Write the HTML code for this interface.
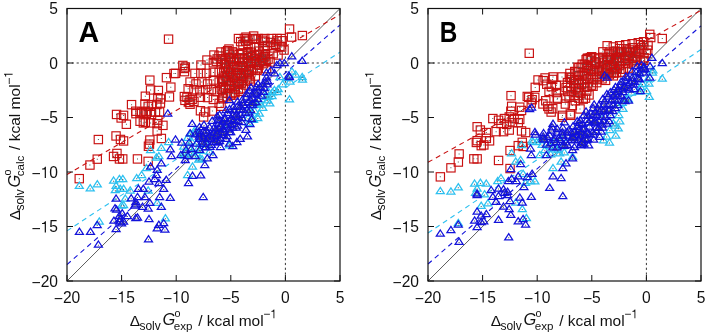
<!DOCTYPE html>
<html><head><meta charset="utf-8"><style>
html,body{margin:0;padding:0;background:#fff;}
svg{display:block;will-change:transform;font-family:"Liberation Sans",sans-serif;}
</style></head><body>
<svg width="708" height="336" viewBox="0 0 708 336" xmlns="http://www.w3.org/2000/svg">

<g stroke="#2a2a2a" stroke-width="0.95" stroke-dasharray="2.2 2.6" fill="none">
<line x1="67.0" y1="63.00" x2="340.0" y2="63.00"/>
<line x1="285.40" y1="8.5" x2="285.40" y2="281.0"/>
</g>
<line x1="67.0" y1="281.0" x2="340.0" y2="8.5" stroke="#333" stroke-width="0.8"/>
<line x1="67.00" y1="174.51" x2="340.00" y2="14.50" stroke="#c81010" stroke-width="1.1" stroke-dasharray="5 4"/>
<line x1="67.00" y1="264.54" x2="340.00" y2="24.96" stroke="#1212da" stroke-width="1.1" stroke-dasharray="5 4"/>
<line x1="67.00" y1="230.86" x2="340.00" y2="52.10" stroke="#2cc0f0" stroke-width="1.1" stroke-dasharray="5 4"/>
<g fill="none" stroke="#c81010" stroke-width="1.15"><rect x="112.4" y="110.3" width="8.3" height="8.3"/><rect x="117.0" y="113.8" width="8.3" height="8.3"/><rect x="94.2" y="135.4" width="8.3" height="8.3"/><rect x="93.1" y="155.0" width="8.3" height="8.3"/><rect x="85.8" y="160.9" width="8.3" height="8.3"/><rect x="111.9" y="131.8" width="8.3" height="8.3"/><rect x="116.3" y="135.3" width="8.3" height="8.3"/><rect x="109.4" y="152.3" width="8.3" height="8.3"/><rect x="112.8" y="149.3" width="8.3" height="8.3"/><rect x="115.3" y="154.8" width="8.3" height="8.3"/><rect x="75.1" y="174.5" width="8.3" height="8.3"/><rect x="127.4" y="100.5" width="8.3" height="8.3"/><rect x="131.6" y="107.1" width="8.3" height="8.3"/><rect x="122.2" y="120.1" width="8.3" height="8.3"/><rect x="164.4" y="35.0" width="8.3" height="8.3"/><rect x="145.7" y="76.0" width="8.3" height="8.3"/><rect x="146.4" y="85.8" width="8.3" height="8.3"/><rect x="154.2" y="86.3" width="8.3" height="8.3"/><rect x="162.3" y="73.5" width="8.3" height="8.3"/><rect x="169.8" y="69.4" width="8.3" height="8.3"/><rect x="166.7" y="83.0" width="8.3" height="8.3"/><rect x="165.3" y="92.8" width="8.3" height="8.3"/><rect x="156.3" y="94.8" width="8.3" height="8.3"/><rect x="156.3" y="98.9" width="8.3" height="8.3"/><rect x="131.8" y="109.5" width="8.3" height="8.3"/><rect x="140.8" y="99.8" width="8.3" height="8.3"/><rect x="144.0" y="102.2" width="8.3" height="8.3"/><rect x="147.3" y="100.5" width="8.3" height="8.3"/><rect x="141.5" y="107.1" width="8.3" height="8.3"/><rect x="146.4" y="107.9" width="8.3" height="8.3"/><rect x="151.3" y="107.9" width="8.3" height="8.3"/><rect x="155.4" y="107.9" width="8.3" height="8.3"/><rect x="137.4" y="107.9" width="8.3" height="8.3"/><rect x="119.4" y="111.2" width="8.3" height="8.3"/><rect x="139.2" y="118.8" width="8.3" height="8.3"/><rect x="146.4" y="118.8" width="8.3" height="8.3"/><rect x="153.0" y="119.5" width="8.3" height="8.3"/><rect x="158.8" y="121.2" width="8.3" height="8.3"/><rect x="153.0" y="126.9" width="8.3" height="8.3"/><rect x="157.2" y="134.3" width="8.3" height="8.3"/><rect x="145.7" y="135.9" width="8.3" height="8.3"/><rect x="145.3" y="140.0" width="8.3" height="8.3"/><rect x="119.4" y="136.8" width="8.3" height="8.3"/><rect x="133.3" y="154.8" width="8.3" height="8.3"/><rect x="144.0" y="157.2" width="8.3" height="8.3"/><rect x="118.6" y="154.8" width="8.3" height="8.3"/><rect x="178.7" y="61.3" width="8.3" height="8.3"/><rect x="181.2" y="62.9" width="8.3" height="8.3"/><rect x="180.3" y="67.5" width="8.3" height="8.3"/><rect x="153.7" y="93.5" width="8.3" height="8.3"/><rect x="141.2" y="92.1" width="8.3" height="8.3"/><rect x="152.7" y="100.4" width="8.3" height="8.3"/><rect x="135.9" y="108.8" width="8.3" height="8.3"/><rect x="142.2" y="109.1" width="8.3" height="8.3"/><rect x="147.4" y="110.4" width="8.3" height="8.3"/><rect x="135.9" y="117.1" width="8.3" height="8.3"/><rect x="141.2" y="118.1" width="8.3" height="8.3"/><rect x="153.7" y="116.0" width="8.3" height="8.3"/><rect x="144.3" y="142.1" width="8.3" height="8.3"/><rect x="182.8" y="93.1" width="8.3" height="8.3"/><rect x="188.0" y="95.2" width="8.3" height="8.3"/><rect x="180.8" y="96.2" width="8.3" height="8.3"/><rect x="184.9" y="98.3" width="8.3" height="8.3"/><rect x="196.3" y="93.1" width="8.3" height="8.3"/><rect x="196.3" y="106.6" width="8.3" height="8.3"/><rect x="199.5" y="112.8" width="8.3" height="8.3"/><rect x="285.4" y="24.9" width="8.3" height="8.3"/><rect x="287.4" y="32.9" width="8.3" height="8.3"/><rect x="298.2" y="31.4" width="8.3" height="8.3"/><rect x="223.5" y="46.5" width="8.3" height="8.3"/><rect x="217.0" y="54.6" width="8.3" height="8.3"/><rect x="212.2" y="57.1" width="8.3" height="8.3"/><rect x="234.3" y="34.4" width="8.3" height="8.3"/><rect x="240.2" y="34.4" width="8.3" height="8.3"/><rect x="248.3" y="34.4" width="8.3" height="8.3"/><rect x="254.0" y="34.4" width="8.3" height="8.3"/><rect x="260.6" y="34.4" width="8.3" height="8.3"/><rect x="267.2" y="34.4" width="8.3" height="8.3"/><rect x="272.9" y="34.4" width="8.3" height="8.3"/><rect x="277.0" y="34.4" width="8.3" height="8.3"/><rect x="180.2" y="64.3" width="8.3" height="8.3"/><rect x="171.4" y="69.2" width="8.3" height="8.3"/><rect x="190.8" y="69.2" width="8.3" height="8.3"/><rect x="196.7" y="69.2" width="8.3" height="8.3"/><rect x="202.4" y="69.2" width="8.3" height="8.3"/><rect x="185.9" y="77.9" width="8.3" height="8.3"/><rect x="191.8" y="79.8" width="8.3" height="8.3"/><rect x="197.7" y="77.9" width="8.3" height="8.3"/><rect x="203.4" y="79.8" width="8.3" height="8.3"/><rect x="209.2" y="58.6" width="8.3" height="8.3"/><rect x="213.0" y="54.8" width="8.3" height="8.3"/><rect x="216.9" y="58.6" width="8.3" height="8.3"/><rect x="218.8" y="54.8" width="8.3" height="8.3"/><rect x="209.2" y="68.2" width="8.3" height="8.3"/><rect x="215.0" y="68.2" width="8.3" height="8.3"/><rect x="209.2" y="75.9" width="8.3" height="8.3"/><rect x="215.0" y="77.9" width="8.3" height="8.3"/><rect x="218.8" y="74.0" width="8.3" height="8.3"/><rect x="184.0" y="84.6" width="8.3" height="8.3"/><rect x="189.8" y="85.6" width="8.3" height="8.3"/><rect x="195.7" y="86.6" width="8.3" height="8.3"/><rect x="201.4" y="85.6" width="8.3" height="8.3"/><rect x="207.2" y="85.6" width="8.3" height="8.3"/><rect x="213.0" y="87.6" width="8.3" height="8.3"/><rect x="180.2" y="92.4" width="8.3" height="8.3"/><rect x="185.9" y="95.3" width="8.3" height="8.3"/><rect x="189.8" y="97.2" width="8.3" height="8.3"/><rect x="203.4" y="93.4" width="8.3" height="8.3"/><rect x="209.2" y="95.3" width="8.3" height="8.3"/><rect x="185.9" y="100.1" width="8.3" height="8.3"/><rect x="215.0" y="99.2" width="8.3" height="8.3"/><rect x="201.4" y="107.9" width="8.3" height="8.3"/><rect x="208.2" y="106.9" width="8.3" height="8.3"/><rect x="216.9" y="102.1" width="8.3" height="8.3"/><rect x="224.8" y="44.9" width="8.3" height="8.3"/><rect x="216.8" y="47.9" width="8.3" height="8.3"/><rect x="209.8" y="50.9" width="8.3" height="8.3"/><rect x="202.8" y="55.9" width="8.3" height="8.3"/><rect x="196.8" y="60.9" width="8.3" height="8.3"/><rect x="221.8" y="47.9" width="8.3" height="8.3"/><rect x="214.8" y="51.9" width="8.3" height="8.3"/><rect x="241.8" y="33.0" width="8.3" height="8.3"/><rect x="249.5" y="31.9" width="8.3" height="8.3"/><rect x="236.5" y="37.5" width="8.3" height="8.3"/><rect x="241.5" y="37.1" width="8.3" height="8.3"/><rect x="243.8" y="36.0" width="8.3" height="8.3"/><rect x="251.1" y="35.1" width="8.3" height="8.3"/><rect x="258.3" y="36.1" width="8.3" height="8.3"/><rect x="260.8" y="37.8" width="8.3" height="8.3"/><rect x="266.2" y="38.3" width="8.3" height="8.3"/><rect x="272.9" y="36.8" width="8.3" height="8.3"/><rect x="278.0" y="36.6" width="8.3" height="8.3"/><rect x="238.8" y="40.4" width="8.3" height="8.3"/><rect x="243.9" y="40.3" width="8.3" height="8.3"/><rect x="250.2" y="42.9" width="8.3" height="8.3"/><rect x="254.8" y="42.4" width="8.3" height="8.3"/><rect x="259.7" y="42.3" width="8.3" height="8.3"/><rect x="263.4" y="41.3" width="8.3" height="8.3"/><rect x="271.6" y="40.2" width="8.3" height="8.3"/><rect x="277.5" y="42.9" width="8.3" height="8.3"/><rect x="275.8" y="42.2" width="8.3" height="8.3"/><rect x="269.8" y="43.8" width="8.3" height="8.3"/><rect x="260.9" y="46.6" width="8.3" height="8.3"/><rect x="269.1" y="49.6" width="8.3" height="8.3"/><rect x="260.9" y="52.6" width="8.3" height="8.3"/><rect x="262.4" y="64.5" width="8.3" height="8.3"/><rect x="265.9" y="57.9" width="8.3" height="8.3"/><rect x="273.9" y="50.9" width="8.3" height="8.3"/><rect x="279.9" y="45.9" width="8.3" height="8.3"/><rect x="255.8" y="57.9" width="8.3" height="8.3"/><rect x="228.3" y="47.7" width="8.3" height="8.3"/><rect x="243.7" y="47.5" width="8.3" height="8.3"/><rect x="247.1" y="48.1" width="8.3" height="8.3"/><rect x="254.5" y="47.0" width="8.3" height="8.3"/><rect x="225.1" y="50.2" width="8.3" height="8.3"/><rect x="229.3" y="49.0" width="8.3" height="8.3"/><rect x="234.8" y="50.5" width="8.3" height="8.3"/><rect x="238.2" y="49.4" width="8.3" height="8.3"/><rect x="243.2" y="51.3" width="8.3" height="8.3"/><rect x="244.8" y="49.8" width="8.3" height="8.3"/><rect x="250.5" y="50.9" width="8.3" height="8.3"/><rect x="255.1" y="50.1" width="8.3" height="8.3"/><rect x="258.8" y="50.8" width="8.3" height="8.3"/><rect x="261.3" y="50.6" width="8.3" height="8.3"/><rect x="224.7" y="53.5" width="8.3" height="8.3"/><rect x="226.9" y="53.9" width="8.3" height="8.3"/><rect x="232.4" y="54.3" width="8.3" height="8.3"/><rect x="235.5" y="53.6" width="8.3" height="8.3"/><rect x="239.9" y="54.6" width="8.3" height="8.3"/><rect x="243.9" y="53.5" width="8.3" height="8.3"/><rect x="247.8" y="52.5" width="8.3" height="8.3"/><rect x="250.6" y="54.3" width="8.3" height="8.3"/><rect x="257.2" y="54.0" width="8.3" height="8.3"/><rect x="259.6" y="52.9" width="8.3" height="8.3"/><rect x="263.9" y="55.1" width="8.3" height="8.3"/><rect x="221.9" y="58.5" width="8.3" height="8.3"/><rect x="226.1" y="57.1" width="8.3" height="8.3"/><rect x="229.2" y="57.4" width="8.3" height="8.3"/><rect x="235.1" y="55.9" width="8.3" height="8.3"/><rect x="238.6" y="58.1" width="8.3" height="8.3"/><rect x="242.9" y="57.9" width="8.3" height="8.3"/><rect x="246.7" y="57.3" width="8.3" height="8.3"/><rect x="250.0" y="57.0" width="8.3" height="8.3"/><rect x="252.6" y="58.3" width="8.3" height="8.3"/><rect x="258.0" y="56.4" width="8.3" height="8.3"/><rect x="261.9" y="57.2" width="8.3" height="8.3"/><rect x="220.2" y="60.6" width="8.3" height="8.3"/><rect x="222.5" y="59.9" width="8.3" height="8.3"/><rect x="226.9" y="60.9" width="8.3" height="8.3"/><rect x="232.9" y="61.5" width="8.3" height="8.3"/><rect x="236.7" y="61.6" width="8.3" height="8.3"/><rect x="239.2" y="61.7" width="8.3" height="8.3"/><rect x="244.3" y="59.5" width="8.3" height="8.3"/><rect x="246.5" y="59.3" width="8.3" height="8.3"/><rect x="252.6" y="60.0" width="8.3" height="8.3"/><rect x="254.8" y="61.1" width="8.3" height="8.3"/><rect x="259.4" y="59.5" width="8.3" height="8.3"/><rect x="221.4" y="64.1" width="8.3" height="8.3"/><rect x="224.5" y="63.9" width="8.3" height="8.3"/><rect x="229.6" y="63.3" width="8.3" height="8.3"/><rect x="232.8" y="65.3" width="8.3" height="8.3"/><rect x="237.9" y="63.4" width="8.3" height="8.3"/><rect x="242.1" y="65.1" width="8.3" height="8.3"/><rect x="244.5" y="62.8" width="8.3" height="8.3"/><rect x="248.9" y="64.8" width="8.3" height="8.3"/><rect x="252.9" y="64.7" width="8.3" height="8.3"/><rect x="219.6" y="67.8" width="8.3" height="8.3"/><rect x="223.3" y="68.0" width="8.3" height="8.3"/><rect x="226.6" y="67.1" width="8.3" height="8.3"/><rect x="233.2" y="68.7" width="8.3" height="8.3"/><rect x="235.3" y="68.6" width="8.3" height="8.3"/><rect x="239.3" y="68.9" width="8.3" height="8.3"/><rect x="244.5" y="67.4" width="8.3" height="8.3"/><rect x="247.2" y="66.3" width="8.3" height="8.3"/><rect x="252.9" y="66.3" width="8.3" height="8.3"/><rect x="221.0" y="71.6" width="8.3" height="8.3"/><rect x="225.7" y="70.2" width="8.3" height="8.3"/><rect x="228.7" y="71.6" width="8.3" height="8.3"/><rect x="233.3" y="71.1" width="8.3" height="8.3"/><rect x="237.4" y="72.1" width="8.3" height="8.3"/><rect x="243.0" y="69.7" width="8.3" height="8.3"/><rect x="245.0" y="70.6" width="8.3" height="8.3"/><rect x="251.2" y="71.9" width="8.3" height="8.3"/><rect x="219.1" y="75.2" width="8.3" height="8.3"/><rect x="222.7" y="73.6" width="8.3" height="8.3"/><rect x="229.0" y="73.8" width="8.3" height="8.3"/><rect x="232.6" y="74.8" width="8.3" height="8.3"/><rect x="236.8" y="74.2" width="8.3" height="8.3"/><rect x="239.4" y="74.0" width="8.3" height="8.3"/><rect x="244.9" y="74.9" width="8.3" height="8.3"/><rect x="218.6" y="77.7" width="8.3" height="8.3"/><rect x="222.0" y="77.3" width="8.3" height="8.3"/><rect x="224.7" y="77.4" width="8.3" height="8.3"/><rect x="230.9" y="78.2" width="8.3" height="8.3"/><rect x="235.0" y="77.9" width="8.3" height="8.3"/><rect x="237.2" y="78.8" width="8.3" height="8.3"/><rect x="242.8" y="76.7" width="8.3" height="8.3"/><rect x="246.3" y="76.9" width="8.3" height="8.3"/><rect x="219.5" y="82.8" width="8.3" height="8.3"/><rect x="225.0" y="80.9" width="8.3" height="8.3"/><rect x="227.2" y="81.4" width="8.3" height="8.3"/><rect x="230.7" y="81.9" width="8.3" height="8.3"/><rect x="234.6" y="80.1" width="8.3" height="8.3"/><rect x="241.2" y="80.9" width="8.3" height="8.3"/><rect x="217.2" y="85.1" width="8.3" height="8.3"/><rect x="221.3" y="84.2" width="8.3" height="8.3"/><rect x="224.7" y="84.3" width="8.3" height="8.3"/><rect x="231.2" y="84.8" width="8.3" height="8.3"/><rect x="234.3" y="85.4" width="8.3" height="8.3"/><rect x="239.1" y="84.6" width="8.3" height="8.3"/><rect x="218.7" y="88.8" width="8.3" height="8.3"/><rect x="223.3" y="89.2" width="8.3" height="8.3"/><rect x="227.8" y="89.4" width="8.3" height="8.3"/><rect x="230.9" y="88.4" width="8.3" height="8.3"/><rect x="236.7" y="87.2" width="8.3" height="8.3"/><rect x="218.7" y="93.0" width="8.3" height="8.3"/><rect x="222.8" y="92.6" width="8.3" height="8.3"/><rect x="226.4" y="91.0" width="8.3" height="8.3"/><rect x="229.7" y="90.9" width="8.3" height="8.3"/><rect x="218.8" y="94.7" width="8.3" height="8.3"/></g>
<g fill="none" stroke="#2cc0f0" stroke-width="1.25" stroke-linejoin="miter"><path d="M99.3 217.8L103.3 224.0H95.3Z"/><path d="M121.6 201.8L125.6 208.0H117.6Z"/><path d="M79.3 182.2L83.3 188.4H75.3Z"/><path d="M90.2 184.7L94.2 190.9H86.2Z"/><path d="M97.3 180.6L101.3 186.8H93.3Z"/><path d="M113.6 177.0L117.6 183.2H109.6Z"/><path d="M119.4 175.3L123.4 181.5H115.4Z"/><path d="M116.1 182.2L120.1 188.4H112.1Z"/><path d="M115.3 186.5L119.3 192.7H111.3Z"/><path d="M120.2 185.2L124.2 191.4H116.2Z"/><path d="M150.6 146.5L154.6 152.7H146.6Z"/><path d="M161.3 144.1L165.3 150.3H157.3Z"/><path d="M168.6 138.3L172.6 144.5H164.6Z"/><path d="M156.4 153.9L160.4 160.1H152.4Z"/><path d="M146.5 164.5L150.5 170.7H142.5Z"/><path d="M158.9 152.5L162.9 158.7H154.9Z"/><path d="M122.8 175.3L126.8 181.5H118.8Z"/><path d="M136.7 174.5L140.7 180.7H132.7Z"/><path d="M141.6 171.3L145.6 177.5H137.6Z"/><path d="M123.6 185.2L127.6 191.4H119.6Z"/><path d="M130.2 186.8L134.2 193.0H126.2Z"/><path d="M125.3 195.0L129.3 201.2H121.3Z"/><path d="M123.6 201.5L127.6 207.7H119.6Z"/><path d="M148.2 186.8L152.2 193.0H144.2Z"/><path d="M165.4 214.6L169.4 220.8H161.4Z"/><path d="M157.2 199.1L161.2 205.3H153.2Z"/><path d="M187.6 171.3L191.6 177.5H183.6Z"/><path d="M199.9 154.7L203.9 160.9H195.9Z"/><path d="M192.5 162.9L196.5 169.1H188.5Z"/><path d="M183.5 149.8L187.5 156.0H179.5Z"/><path d="M229.4 141.6L233.4 147.8H225.4Z"/><path d="M201.5 139.2L205.5 145.4H197.5Z"/><path d="M291.9 67.8L295.9 74.0H287.9Z"/><path d="M302.5 76.0L306.5 82.2H298.5Z"/><path d="M289.5 95.6L293.5 101.8H285.5Z"/><path d="M302.2 73.4L306.2 79.6H298.2Z"/><path d="M279.9 73.4L283.9 79.6H275.9Z"/><path d="M268.3 87.8L272.3 94.0H264.3Z"/><path d="M274.4 86.3L278.4 92.5H270.4Z"/><path d="M277.3 88.3L281.3 94.5H273.3Z"/><path d="M265.9 92.6L269.9 98.8H261.9Z"/><path d="M268.7 92.8L272.7 99.0H264.7Z"/><path d="M256.3 99.4L260.3 105.6H252.3Z"/><path d="M259.0 96.8L263.0 103.0H255.0Z"/><path d="M267.4 96.6L271.4 102.8H263.4Z"/><path d="M251.2 101.3L255.2 107.5H247.2Z"/><path d="M257.9 101.1L261.9 107.3H253.9Z"/><path d="M262.8 104.1L266.8 110.3H258.8Z"/><path d="M249.5 107.0L253.5 113.2H245.5Z"/><path d="M254.5 107.3L258.5 113.5H250.5Z"/><path d="M259.4 109.9L263.4 116.1H255.4Z"/><path d="M248.0 114.6L252.0 120.8H244.0Z"/><path d="M252.7 114.6L256.7 120.8H248.7Z"/><path d="M257.8 114.4L261.8 120.6H253.8Z"/><path d="M248.9 119.4L252.9 125.6H244.9Z"/><path d="M253.6 116.2L257.6 122.4H249.6Z"/><path d="M287.8 74.4L291.8 80.6H283.8Z"/><path d="M295.7 71.0L299.7 77.2H291.7Z"/><path d="M282.6 80.6L286.6 86.8H278.6Z"/><path d="M290.0 77.9L294.0 84.1H286.0Z"/><path d="M272.4 88.6L276.4 94.8H268.4Z"/><path d="M278.3 85.5L282.3 91.7H274.3Z"/><path d="M266.6 93.1L270.6 99.3H262.6Z"/><path d="M272.1 92.4L276.1 98.6H268.1Z"/><path d="M260.8 100.6L264.8 106.8H256.8Z"/><path d="M269.8 99.6L273.8 105.8H265.8Z"/><path d="M195.2 125.9L199.2 132.1H191.2Z"/><path d="M190.7 130.2L194.7 136.4H186.7Z"/><path d="M195.1 128.5L199.1 134.7H191.1Z"/><path d="M187.6 134.1L191.6 140.3H183.6Z"/><path d="M191.6 137.7L195.6 143.9H187.6Z"/><path d="M199.6 134.5L203.6 140.7H195.6Z"/><path d="M183.7 142.9L187.7 149.1H179.7Z"/><path d="M189.1 144.1L193.1 150.3H185.1Z"/><path d="M198.4 144.3L202.4 150.5H194.4Z"/><path d="M206.4 141.0L210.4 147.2H202.4Z"/><path d="M186.0 148.6L190.0 154.8H182.0Z"/><path d="M191.6 148.9L195.6 155.1H187.6Z"/><path d="M200.2 147.1L204.2 153.3H196.2Z"/><path d="M209.6 148.0L213.6 154.2H205.6Z"/><path d="M184.5 151.9L188.5 158.1H180.5Z"/><path d="M192.8 151.8L196.8 158.0H188.8Z"/><path d="M198.7 155.8L202.7 162.0H194.7Z"/><path d="M202.1 155.5L206.1 161.7H198.1Z"/></g>
<g fill="none" stroke="#1212da" stroke-width="1.25" stroke-linejoin="miter"><path d="M79.4 228.2L83.4 234.4H75.4Z"/><path d="M90.5 228.2L94.5 234.4H86.5Z"/><path d="M97.2 221.3L101.2 227.5H93.2Z"/><path d="M98.4 241.0L102.4 247.2H94.4Z"/><path d="M116.1 225.4L120.1 231.6H112.1Z"/><path d="M116.6 206.0L120.6 212.2H112.6Z"/><path d="M122.2 209.6L126.2 215.8H118.2Z"/><path d="M127.4 212.3L131.4 218.5H123.4Z"/><path d="M113.9 217.1L117.9 223.2H109.9Z"/><path d="M120.1 215.4L124.1 221.6H116.1Z"/><path d="M121.6 219.6L125.6 225.8H117.6Z"/><path d="M135.8 214.3L139.8 220.5H131.8Z"/><path d="M134.7 201.8L138.7 208.0H130.7Z"/><path d="M116.1 195.0L120.1 201.2H112.1Z"/><path d="M119.4 212.2L123.4 218.4H115.4Z"/><path d="M119.7 217.9L123.7 224.1H115.7Z"/><path d="M131.2 194.6L135.2 200.8H127.2Z"/><path d="M135.8 198.3L139.8 204.5H131.8Z"/><path d="M115.0 204.6L119.0 210.8H111.0Z"/><path d="M148.5 235.6L152.5 241.8H144.5Z"/><path d="M157.2 224.6L161.2 230.8H153.2Z"/><path d="M164.9 225.8L168.9 232.0H160.9Z"/><path d="M167.8 109.8L171.8 116.0H163.8Z"/><path d="M192.2 120.2L196.2 126.4H188.2Z"/><path d="M199.5 123.3L203.5 129.5H195.5Z"/><path d="M190.1 129.6L194.1 135.8H186.1Z"/><path d="M195.3 130.6L199.3 136.8H191.3Z"/><path d="M199.5 130.6L203.5 136.8H195.5Z"/><path d="M203.7 127.5L207.7 133.7H199.7Z"/><path d="M175.5 135.8L179.5 142.0H171.5Z"/><path d="M181.8 138.8L185.8 145.0H177.8Z"/><path d="M189.1 138.8L193.1 145.0H185.1Z"/><path d="M196.4 140.0L200.4 146.2H192.4Z"/><path d="M186.0 146.2L190.0 152.4H182.0Z"/><path d="M191.2 145.2L195.2 151.4H187.2Z"/><path d="M199.5 146.2L203.5 152.4H195.5Z"/><path d="M171.4 152.5L175.4 158.7H167.4Z"/><path d="M180.8 151.4L184.8 157.6H176.8Z"/><path d="M188.0 152.5L192.0 158.7H184.0Z"/><path d="M195.3 152.5L199.3 158.7H191.3Z"/><path d="M202.6 137.8L206.6 144.0H198.6Z"/><path d="M170.3 145.7L174.3 151.9H166.3Z"/><path d="M161.3 159.6L165.3 165.8H157.3Z"/><path d="M150.6 162.9L154.6 169.1H146.6Z"/><path d="M157.2 166.2L161.2 172.4H153.2Z"/><path d="M138.4 185.2L142.4 191.4H134.4Z"/><path d="M143.3 185.2L147.3 191.4H139.3Z"/><path d="M137.5 193.3L141.5 199.5H133.5Z"/><path d="M144.9 193.3L148.9 199.5H140.9Z"/><path d="M135.9 200.7L139.9 206.9H131.9Z"/><path d="M142.5 203.2L146.5 209.4H138.5Z"/><path d="M148.2 204.8L152.2 211.0H144.2Z"/><path d="M149.8 199.1L153.8 205.3H145.8Z"/><path d="M159.6 193.3L163.6 199.5H155.6Z"/><path d="M163.7 185.2L167.7 191.4H159.7Z"/><path d="M161.3 203.2L165.3 209.4H157.3Z"/><path d="M170.3 194.2L174.3 200.4H166.3Z"/><path d="M149.0 177.8L153.0 184.0H145.0Z"/><path d="M154.7 175.3L158.7 181.5H150.7Z"/><path d="M158.8 179.4L162.8 185.6H154.8Z"/><path d="M166.2 176.2L170.2 182.4H162.2Z"/><path d="M156.4 171.3L160.4 177.5H152.4Z"/><path d="M137.5 213.8L141.5 220.0H133.5Z"/><path d="M149.0 215.4L153.0 221.6H145.0Z"/><path d="M123.6 217.9L127.6 224.1H119.6Z"/><path d="M158.8 221.2L162.8 227.4H154.8Z"/><path d="M163.7 219.5L167.7 225.7H159.7Z"/><path d="M204.0 121.2L208.0 127.4H200.0Z"/><path d="M212.2 117.1L216.2 123.3H208.2Z"/><path d="M217.9 116.3L221.9 122.5H213.9Z"/><path d="M224.5 115.4L228.5 121.6H220.5Z"/><path d="M229.4 117.1L233.4 123.3H225.4Z"/><path d="M199.1 127.7L203.1 133.9H195.1Z"/><path d="M206.5 126.9L210.5 133.1H202.5Z"/><path d="M213.8 124.4L217.8 130.6H209.8Z"/><path d="M220.4 122.8L224.4 129.0H216.4Z"/><path d="M226.9 122.8L230.9 129.0H222.9Z"/><path d="M203.2 133.4L207.2 139.6H199.2Z"/><path d="M209.7 131.8L213.7 138.0H205.7Z"/><path d="M216.3 130.2L220.3 136.4H212.3Z"/><path d="M222.8 129.3L226.8 135.5H218.8Z"/><path d="M229.4 128.5L233.4 134.7H225.4Z"/><path d="M205.6 143.3L209.6 149.5H201.6Z"/><path d="M213.0 138.3L217.0 144.5H209.0Z"/><path d="M219.6 137.5L223.6 143.7H215.6Z"/><path d="M220.4 143.3L224.4 149.5H216.4Z"/><path d="M226.1 135.1L230.1 141.3H222.1Z"/><path d="M213.0 151.4L217.0 157.6H209.0Z"/><path d="M207.3 154.7L211.3 160.9H203.3Z"/><path d="M185.2 156.4L189.2 162.6H181.2Z"/><path d="M204.8 161.3L208.8 167.5H200.8Z"/><path d="M229.4 140.0L233.4 146.2H225.4Z"/><path d="M229.4 96.4L233.4 102.6H225.4Z"/><path d="M226.1 106.3L230.1 112.5H222.1Z"/><path d="M219.6 111.2L223.6 117.4H215.6Z"/><path d="M188.5 179.4L192.5 185.6H184.5Z"/><path d="M192.5 172.1L196.5 178.3H188.5Z"/><path d="M200.7 171.7L204.7 177.9H196.7Z"/><path d="M203.2 193.3L207.2 199.5H199.2Z"/><path d="M247.5 132.6L251.5 138.8H243.5Z"/><path d="M245.9 126.1L249.9 132.3H241.9Z"/><path d="M250.0 120.3L254.0 126.5H246.0Z"/><path d="M251.6 115.4L255.6 121.6H247.6Z"/><path d="M240.2 135.1L244.2 141.3H236.2Z"/><path d="M236.9 138.3L240.9 144.5H232.9Z"/><path d="M232.8 142.4L236.8 148.6H228.8Z"/><path d="M289.5 73.5L293.5 79.7H285.5Z"/><path d="M291.8 52.6L295.8 58.8H287.8Z"/><path d="M302.2 57.1L306.2 63.3H298.2Z"/><path d="M279.9 59.3L283.9 65.5H275.9Z"/><path d="M284.3 59.3L288.3 65.5H280.3Z"/><path d="M276.9 61.5L280.9 67.7H272.9Z"/><path d="M270.9 66.7L274.9 72.9H266.9Z"/><path d="M266.5 69.0L270.5 75.2H262.5Z"/><path d="M274.6 69.7L278.6 75.9H270.6Z"/><path d="M288.8 71.9L292.8 78.1H284.8Z"/><path d="M217.2 112.7L221.2 118.9H213.2Z"/><path d="M266.5 73.7L270.5 79.9H262.5Z"/><path d="M265.7 78.0L269.7 84.2H261.7Z"/><path d="M267.7 77.4L271.7 83.6H263.7Z"/><path d="M258.1 80.3L262.1 86.5H254.1Z"/><path d="M262.9 80.5L266.9 86.7H258.9Z"/><path d="M267.0 80.6L271.0 86.8H263.0Z"/><path d="M251.0 83.8L255.0 90.0H247.0Z"/><path d="M256.3 83.4L260.3 89.6H252.3Z"/><path d="M259.9 83.4L263.9 89.6H255.9Z"/><path d="M264.3 84.3L268.3 90.5H260.3Z"/><path d="M249.7 86.8L253.7 93.0H245.7Z"/><path d="M254.8 88.7L258.8 94.9H250.8Z"/><path d="M257.2 87.0L261.2 93.2H253.2Z"/><path d="M263.4 88.1L267.4 94.3H259.4Z"/><path d="M246.6 90.1L250.6 96.3H242.6Z"/><path d="M252.0 90.8L256.0 97.0H248.0Z"/><path d="M257.0 90.0L261.0 96.2H253.0Z"/><path d="M261.6 92.0L265.6 98.2H257.6Z"/><path d="M242.3 96.1L246.3 102.3H238.3Z"/><path d="M246.3 93.7L250.3 99.9H242.3Z"/><path d="M250.0 96.2L254.0 102.4H246.0Z"/><path d="M252.5 94.5L256.5 100.7H248.5Z"/><path d="M257.5 95.2L261.5 101.4H253.5Z"/><path d="M237.6 97.9L241.6 104.1H233.6Z"/><path d="M242.8 99.2L246.8 105.4H238.8Z"/><path d="M248.3 98.5L252.3 104.7H244.3Z"/><path d="M252.7 99.2L256.7 105.4H248.7Z"/><path d="M255.8 98.5L259.8 104.7H251.8Z"/><path d="M233.3 103.1L237.3 109.3H229.3Z"/><path d="M237.4 102.8L241.4 109.0H233.4Z"/><path d="M239.8 102.9L243.8 109.1H235.8Z"/><path d="M243.8 101.5L247.8 107.7H239.8Z"/><path d="M250.4 101.2L254.4 107.4H246.4Z"/><path d="M252.7 101.4L256.7 107.6H248.7Z"/><path d="M229.5 105.4L233.5 111.6H225.5Z"/><path d="M233.8 106.7L237.8 112.9H229.8Z"/><path d="M239.6 106.0L243.6 112.2H235.6Z"/><path d="M242.8 106.0L246.8 112.2H238.8Z"/><path d="M247.0 106.1L251.0 112.3H243.0Z"/><path d="M250.5 106.3L254.5 112.5H246.5Z"/><path d="M227.5 109.2L231.5 115.4H223.5Z"/><path d="M233.0 111.4L237.0 117.6H229.0Z"/><path d="M236.1 110.7L240.1 116.9H232.1Z"/><path d="M240.7 111.1L244.7 117.3H236.7Z"/><path d="M245.6 109.3L249.6 115.5H241.6Z"/><path d="M248.7 108.6L252.7 114.8H244.7Z"/><path d="M225.2 114.4L229.2 120.6H221.2Z"/><path d="M230.8 115.1L234.8 121.3H226.8Z"/><path d="M235.6 113.0L239.6 119.2H231.6Z"/><path d="M237.9 113.0L241.9 119.2H233.9Z"/><path d="M242.2 114.4L246.2 120.6H238.2Z"/><path d="M219.6 116.3L223.6 122.5H215.6Z"/><path d="M223.1 118.0L227.1 124.2H219.1Z"/><path d="M226.9 118.7L230.9 124.9H222.9Z"/><path d="M233.6 116.3L237.6 122.5H229.6Z"/><path d="M238.0 117.1L242.0 123.3H234.0Z"/><path d="M241.8 118.3L245.8 124.5H237.8Z"/><path d="M218.6 120.1L222.6 126.3H214.6Z"/><path d="M221.1 121.9L225.1 128.1H217.1Z"/><path d="M226.2 121.4L230.2 127.6H222.2Z"/><path d="M230.7 121.1L234.7 127.3H226.7Z"/><path d="M234.0 120.2L238.0 126.4H230.0Z"/><path d="M237.6 121.9L241.6 128.1H233.6Z"/><path d="M209.7 123.8L213.7 130.0H205.7Z"/><path d="M216.0 125.6L220.0 131.8H212.0Z"/><path d="M218.6 124.0L222.6 130.2H214.6Z"/><path d="M223.5 125.7L227.5 131.9H219.5Z"/><path d="M229.1 125.7L233.1 131.9H225.1Z"/><path d="M232.7 123.9L236.7 130.1H228.7Z"/><path d="M236.4 124.0L240.4 130.2H232.4Z"/><path d="M204.8 129.3L208.8 135.5H200.8Z"/><path d="M207.3 129.5L211.3 135.7H203.3Z"/><path d="M213.5 128.6L217.5 134.8H209.5Z"/><path d="M217.4 128.5L221.4 134.7H213.4Z"/><path d="M220.7 128.7L224.7 134.9H216.7Z"/><path d="M224.6 128.7L228.6 134.9H220.6Z"/><path d="M230.7 128.5L234.7 134.7H226.7Z"/><path d="M199.3 133.0L203.3 139.2H195.3Z"/><path d="M203.0 131.9L207.0 138.1H199.0Z"/><path d="M207.5 133.7L211.5 139.9H203.5Z"/><path d="M212.0 132.2L216.0 138.4H208.0Z"/><path d="M216.0 132.3L220.0 138.5H212.0Z"/><path d="M218.3 131.0L222.3 137.2H214.3Z"/><path d="M222.5 131.5L226.5 137.7H218.5Z"/><path d="M227.1 132.4L231.1 138.6H223.1Z"/><path d="M200.0 135.2L204.0 141.4H196.0Z"/><path d="M203.6 135.1L207.6 141.3H199.6Z"/><path d="M208.5 135.1L212.5 141.3H204.5Z"/><path d="M211.6 134.9L215.6 141.1H207.6Z"/><path d="M216.4 136.1L220.4 142.3H212.4Z"/><path d="M220.3 134.7L224.3 140.9H216.3Z"/><path d="M203.2 140.2L207.2 146.4H199.2Z"/><path d="M206.1 138.6L210.1 144.8H202.1Z"/><path d="M211.4 141.2L215.4 147.4H207.4Z"/><path d="M215.5 138.3L219.5 144.5H211.5Z"/><path d="M218.1 138.6L222.1 144.8H214.1Z"/><path d="M205.5 143.7L209.5 149.9H201.5Z"/><path d="M210.0 143.1L214.0 149.3H206.0Z"/></g>
<path fill="#555" d="M98.8 221.5h1v1h-1zM121.1 205.5h1v1h-1zM78.8 185.9h1v1h-1zM89.7 188.4h1v1h-1zM96.8 184.3h1v1h-1zM113.1 180.7h1v1h-1zM118.9 179.0h1v1h-1zM115.6 185.9h1v1h-1zM114.8 190.2h1v1h-1zM119.7 188.9h1v1h-1zM150.1 150.2h1v1h-1zM160.8 147.8h1v1h-1zM168.1 142.0h1v1h-1zM155.9 157.6h1v1h-1zM146.0 168.2h1v1h-1zM158.4 156.2h1v1h-1zM122.3 179.0h1v1h-1zM136.2 178.2h1v1h-1zM141.1 175.0h1v1h-1zM123.1 188.9h1v1h-1zM129.7 190.5h1v1h-1zM124.8 198.7h1v1h-1zM123.1 205.2h1v1h-1zM147.7 190.5h1v1h-1zM164.9 218.3h1v1h-1zM156.7 202.8h1v1h-1zM187.1 175.0h1v1h-1zM199.4 158.4h1v1h-1zM192.0 166.6h1v1h-1zM183.0 153.5h1v1h-1zM228.9 145.3h1v1h-1zM201.0 142.9h1v1h-1zM291.4 71.5h1v1h-1zM302.0 79.7h1v1h-1zM289.0 99.3h1v1h-1zM301.7 77.1h1v1h-1zM279.4 77.1h1v1h-1zM267.8 91.5h1v1h-1zM273.9 90.0h1v1h-1zM276.8 92.0h1v1h-1zM265.4 96.3h1v1h-1zM268.2 96.5h1v1h-1zM255.8 103.1h1v1h-1zM258.5 100.5h1v1h-1zM266.9 100.3h1v1h-1zM250.7 105.0h1v1h-1zM257.4 104.8h1v1h-1zM262.3 107.8h1v1h-1zM249.0 110.7h1v1h-1zM254.0 111.0h1v1h-1zM258.9 113.6h1v1h-1zM247.5 118.3h1v1h-1zM252.2 118.3h1v1h-1zM257.3 118.1h1v1h-1zM248.4 123.1h1v1h-1zM253.1 119.9h1v1h-1zM287.3 78.1h1v1h-1zM295.2 74.7h1v1h-1zM282.1 84.3h1v1h-1zM289.5 81.6h1v1h-1zM271.9 92.3h1v1h-1zM277.8 89.2h1v1h-1zM266.1 96.8h1v1h-1zM271.6 96.1h1v1h-1zM260.3 104.3h1v1h-1zM269.3 103.3h1v1h-1zM194.7 129.6h1v1h-1zM190.2 133.9h1v1h-1zM194.6 132.2h1v1h-1zM187.1 137.8h1v1h-1zM191.1 141.4h1v1h-1zM199.1 138.2h1v1h-1zM183.2 146.6h1v1h-1zM188.6 147.8h1v1h-1zM197.9 148.0h1v1h-1zM205.9 144.7h1v1h-1zM185.5 152.3h1v1h-1zM191.1 152.6h1v1h-1zM199.7 150.8h1v1h-1zM209.1 151.7h1v1h-1zM184.0 155.6h1v1h-1zM192.3 155.5h1v1h-1zM198.2 159.5h1v1h-1zM201.6 159.2h1v1h-1zM78.9 231.9h1v1h-1zM90.0 231.9h1v1h-1zM96.7 225.0h1v1h-1zM97.9 244.7h1v1h-1zM115.6 229.1h1v1h-1zM116.1 209.7h1v1h-1zM121.7 213.2h1v1h-1zM126.9 216.0h1v1h-1zM113.4 220.8h1v1h-1zM119.6 219.1h1v1h-1zM121.1 223.2h1v1h-1zM135.2 218.0h1v1h-1zM134.2 205.5h1v1h-1zM115.6 198.7h1v1h-1zM118.9 215.9h1v1h-1zM119.2 221.6h1v1h-1zM130.7 198.3h1v1h-1zM135.3 202.0h1v1h-1zM114.5 208.3h1v1h-1zM148.0 239.3h1v1h-1zM156.7 228.3h1v1h-1zM164.4 229.5h1v1h-1zM167.3 113.5h1v1h-1zM191.7 123.9h1v1h-1zM199.0 127.0h1v1h-1zM189.6 133.2h1v1h-1zM194.8 134.3h1v1h-1zM199.0 134.3h1v1h-1zM203.2 131.2h1v1h-1zM175.0 139.5h1v1h-1zM181.3 142.5h1v1h-1zM188.6 142.5h1v1h-1zM195.9 143.7h1v1h-1zM185.5 149.9h1v1h-1zM190.7 148.9h1v1h-1zM199.0 149.9h1v1h-1zM170.9 156.2h1v1h-1zM180.2 155.1h1v1h-1zM187.5 156.2h1v1h-1zM194.8 156.2h1v1h-1zM202.1 141.5h1v1h-1zM169.8 149.4h1v1h-1zM160.8 163.3h1v1h-1zM150.1 166.6h1v1h-1zM156.7 169.9h1v1h-1zM137.9 188.9h1v1h-1zM142.8 188.9h1v1h-1zM137.0 197.0h1v1h-1zM144.4 197.0h1v1h-1zM135.4 204.4h1v1h-1zM142.0 206.9h1v1h-1zM147.7 208.5h1v1h-1zM149.3 202.8h1v1h-1zM159.1 197.0h1v1h-1zM163.2 188.9h1v1h-1zM160.8 206.9h1v1h-1zM169.8 197.9h1v1h-1zM148.5 181.5h1v1h-1zM154.2 179.0h1v1h-1zM158.3 183.1h1v1h-1zM165.7 179.9h1v1h-1zM155.9 175.0h1v1h-1zM137.0 217.5h1v1h-1zM148.5 219.1h1v1h-1zM123.1 221.6h1v1h-1zM158.3 224.9h1v1h-1zM163.2 223.2h1v1h-1zM203.5 124.9h1v1h-1zM211.7 120.8h1v1h-1zM217.4 120.0h1v1h-1zM224.0 119.1h1v1h-1zM228.9 120.8h1v1h-1zM198.6 131.4h1v1h-1zM206.0 130.6h1v1h-1zM213.3 128.1h1v1h-1zM219.9 126.5h1v1h-1zM226.4 126.5h1v1h-1zM202.7 137.1h1v1h-1zM209.2 135.5h1v1h-1zM215.8 133.9h1v1h-1zM222.3 133.0h1v1h-1zM228.9 132.2h1v1h-1zM205.1 147.0h1v1h-1zM212.5 142.0h1v1h-1zM219.1 141.2h1v1h-1zM219.9 147.0h1v1h-1zM225.6 138.8h1v1h-1zM212.5 155.1h1v1h-1zM206.8 158.4h1v1h-1zM184.7 160.1h1v1h-1zM204.3 165.0h1v1h-1zM228.9 143.7h1v1h-1zM228.9 100.1h1v1h-1zM225.6 110.0h1v1h-1zM219.1 114.9h1v1h-1zM188.0 183.1h1v1h-1zM192.0 175.8h1v1h-1zM200.2 175.4h1v1h-1zM202.7 197.0h1v1h-1zM247.0 136.3h1v1h-1zM245.4 129.8h1v1h-1zM249.5 124.0h1v1h-1zM251.1 119.1h1v1h-1zM239.7 138.8h1v1h-1zM236.4 142.0h1v1h-1zM232.3 146.1h1v1h-1zM289.0 77.2h1v1h-1zM291.3 56.3h1v1h-1zM301.7 60.8h1v1h-1zM279.4 63.0h1v1h-1zM283.8 63.0h1v1h-1zM276.4 65.2h1v1h-1zM270.4 70.4h1v1h-1zM266.0 72.7h1v1h-1zM274.1 73.4h1v1h-1zM288.3 75.6h1v1h-1zM216.7 116.4h1v1h-1zM266.0 77.4h1v1h-1zM265.2 81.7h1v1h-1zM267.2 81.1h1v1h-1zM257.6 84.0h1v1h-1zM262.4 84.2h1v1h-1zM266.5 84.3h1v1h-1zM250.5 87.5h1v1h-1zM255.8 87.1h1v1h-1zM259.4 87.1h1v1h-1zM263.8 88.0h1v1h-1zM249.2 90.5h1v1h-1zM254.3 92.4h1v1h-1zM256.7 90.7h1v1h-1zM262.9 91.8h1v1h-1zM246.1 93.8h1v1h-1zM251.5 94.5h1v1h-1zM256.5 93.7h1v1h-1zM261.1 95.7h1v1h-1zM241.8 99.8h1v1h-1zM245.8 97.4h1v1h-1zM249.5 99.9h1v1h-1zM252.0 98.2h1v1h-1zM257.0 98.9h1v1h-1zM237.1 101.6h1v1h-1zM242.3 102.9h1v1h-1zM247.8 102.2h1v1h-1zM252.2 102.9h1v1h-1zM255.3 102.2h1v1h-1zM232.8 106.8h1v1h-1zM236.9 106.5h1v1h-1zM239.3 106.6h1v1h-1zM243.3 105.2h1v1h-1zM249.9 104.9h1v1h-1zM252.2 105.1h1v1h-1zM229.0 109.1h1v1h-1zM233.3 110.4h1v1h-1zM239.1 109.7h1v1h-1zM242.3 109.7h1v1h-1zM246.5 109.8h1v1h-1zM250.0 110.0h1v1h-1zM227.0 112.9h1v1h-1zM232.5 115.1h1v1h-1zM235.6 114.4h1v1h-1zM240.2 114.8h1v1h-1zM245.1 113.0h1v1h-1zM248.2 112.3h1v1h-1zM224.7 118.1h1v1h-1zM230.3 118.8h1v1h-1zM235.1 116.7h1v1h-1zM237.4 116.7h1v1h-1zM241.7 118.1h1v1h-1zM219.1 120.0h1v1h-1zM222.6 121.7h1v1h-1zM226.4 122.4h1v1h-1zM233.1 120.0h1v1h-1zM237.5 120.8h1v1h-1zM241.3 122.0h1v1h-1zM218.1 123.8h1v1h-1zM220.6 125.6h1v1h-1zM225.7 125.1h1v1h-1zM230.2 124.8h1v1h-1zM233.5 123.9h1v1h-1zM237.1 125.6h1v1h-1zM209.2 127.5h1v1h-1zM215.5 129.3h1v1h-1zM218.1 127.7h1v1h-1zM223.0 129.4h1v1h-1zM228.6 129.4h1v1h-1zM232.2 127.6h1v1h-1zM235.9 127.7h1v1h-1zM204.3 133.0h1v1h-1zM206.8 133.2h1v1h-1zM213.0 132.3h1v1h-1zM216.9 132.2h1v1h-1zM220.2 132.4h1v1h-1zM224.1 132.4h1v1h-1zM230.2 132.2h1v1h-1zM198.8 136.7h1v1h-1zM202.5 135.6h1v1h-1zM207.0 137.4h1v1h-1zM211.5 135.9h1v1h-1zM215.5 136.0h1v1h-1zM217.8 134.7h1v1h-1zM222.0 135.2h1v1h-1zM226.6 136.1h1v1h-1zM199.5 138.9h1v1h-1zM203.1 138.8h1v1h-1zM208.0 138.8h1v1h-1zM211.1 138.6h1v1h-1zM215.9 139.8h1v1h-1zM219.8 138.4h1v1h-1zM202.7 143.9h1v1h-1zM205.6 142.3h1v1h-1zM210.9 144.9h1v1h-1zM215.0 142.0h1v1h-1zM217.6 142.3h1v1h-1zM205.0 147.4h1v1h-1zM209.5 146.8h1v1h-1zM116.1 114.0h1v1h-1zM120.7 117.5h1v1h-1zM97.9 139.1h1v1h-1zM96.8 158.7h1v1h-1zM89.4 164.6h1v1h-1zM115.6 135.5h1v1h-1zM120.0 139.0h1v1h-1zM113.1 156.0h1v1h-1zM116.5 153.0h1v1h-1zM119.0 158.5h1v1h-1zM78.8 178.2h1v1h-1zM131.1 104.2h1v1h-1zM135.2 110.8h1v1h-1zM125.9 123.8h1v1h-1zM168.1 38.6h1v1h-1zM149.3 79.7h1v1h-1zM150.1 89.5h1v1h-1zM157.8 90.0h1v1h-1zM166.0 77.2h1v1h-1zM173.5 73.1h1v1h-1zM170.3 86.7h1v1h-1zM169.0 96.5h1v1h-1zM160.0 98.5h1v1h-1zM160.0 102.6h1v1h-1zM135.4 113.2h1v1h-1zM144.4 103.4h1v1h-1zM147.7 105.9h1v1h-1zM151.0 104.2h1v1h-1zM145.2 110.8h1v1h-1zM150.1 111.6h1v1h-1zM155.0 111.6h1v1h-1zM159.1 111.6h1v1h-1zM141.1 111.6h1v1h-1zM123.1 114.9h1v1h-1zM142.8 122.4h1v1h-1zM150.1 122.4h1v1h-1zM156.7 123.2h1v1h-1zM162.4 124.9h1v1h-1zM156.7 130.6h1v1h-1zM160.8 138.0h1v1h-1zM149.3 139.6h1v1h-1zM149.0 143.7h1v1h-1zM123.1 140.4h1v1h-1zM137.0 158.4h1v1h-1zM147.7 160.9h1v1h-1zM122.3 158.4h1v1h-1zM182.3 64.9h1v1h-1zM184.8 66.6h1v1h-1zM184.0 71.2h1v1h-1zM157.3 97.2h1v1h-1zM144.8 95.8h1v1h-1zM156.3 104.1h1v1h-1zM139.6 112.4h1v1h-1zM145.9 112.8h1v1h-1zM151.1 114.1h1v1h-1zM139.6 120.8h1v1h-1zM144.8 121.8h1v1h-1zM157.3 119.7h1v1h-1zM148.0 145.8h1v1h-1zM186.5 96.8h1v1h-1zM191.7 98.9h1v1h-1zM184.4 99.9h1v1h-1zM188.6 102.0h1v1h-1zM200.0 96.8h1v1h-1zM200.0 110.3h1v1h-1zM203.2 116.5h1v1h-1zM289.0 28.5h1v1h-1zM291.0 36.5h1v1h-1zM301.8 35.0h1v1h-1zM227.2 50.1h1v1h-1zM220.7 58.2h1v1h-1zM215.8 60.7h1v1h-1zM238.0 38.0h1v1h-1zM243.8 38.0h1v1h-1zM252.0 38.0h1v1h-1zM257.7 38.0h1v1h-1zM264.2 38.0h1v1h-1zM270.8 38.0h1v1h-1zM276.5 38.0h1v1h-1zM280.6 38.0h1v1h-1zM183.8 68.0h1v1h-1zM175.1 72.9h1v1h-1zM194.5 72.9h1v1h-1zM200.3 72.9h1v1h-1zM206.1 72.9h1v1h-1zM189.6 81.6h1v1h-1zM195.5 83.5h1v1h-1zM201.3 81.6h1v1h-1zM207.1 83.5h1v1h-1zM212.9 62.2h1v1h-1zM216.7 58.4h1v1h-1zM220.6 62.2h1v1h-1zM222.5 58.4h1v1h-1zM212.9 71.9h1v1h-1zM218.7 71.9h1v1h-1zM212.9 79.6h1v1h-1zM218.7 81.6h1v1h-1zM222.5 77.7h1v1h-1zM187.7 88.3h1v1h-1zM193.5 89.3h1v1h-1zM199.3 90.3h1v1h-1zM205.1 89.3h1v1h-1zM210.9 89.3h1v1h-1zM216.7 91.3h1v1h-1zM183.8 96.1h1v1h-1zM189.6 99.0h1v1h-1zM193.5 100.9h1v1h-1zM207.1 97.1h1v1h-1zM212.9 99.0h1v1h-1zM189.6 103.8h1v1h-1zM218.7 102.9h1v1h-1zM205.1 111.6h1v1h-1zM211.9 110.6h1v1h-1zM220.6 105.8h1v1h-1zM228.5 48.5h1v1h-1zM220.5 51.5h1v1h-1zM213.5 54.5h1v1h-1zM206.5 59.5h1v1h-1zM200.5 64.5h1v1h-1zM225.5 51.5h1v1h-1zM218.5 55.5h1v1h-1zM245.4 36.6h1v1h-1zM253.2 35.5h1v1h-1zM240.2 41.2h1v1h-1zM245.2 40.7h1v1h-1zM247.5 39.6h1v1h-1zM254.7 38.8h1v1h-1zM262.0 39.8h1v1h-1zM264.4 41.5h1v1h-1zM269.8 41.9h1v1h-1zM276.6 40.5h1v1h-1zM281.6 40.2h1v1h-1zM242.4 44.0h1v1h-1zM247.6 43.9h1v1h-1zM253.8 46.5h1v1h-1zM258.5 46.0h1v1h-1zM263.3 45.9h1v1h-1zM267.0 44.9h1v1h-1zM275.3 43.9h1v1h-1zM281.1 46.5h1v1h-1zM279.4 45.9h1v1h-1zM273.4 47.4h1v1h-1zM264.5 50.3h1v1h-1zM272.7 53.3h1v1h-1zM264.5 56.3h1v1h-1zM266.0 68.2h1v1h-1zM269.5 61.5h1v1h-1zM277.5 54.5h1v1h-1zM283.5 49.5h1v1h-1zM259.5 61.5h1v1h-1zM231.9 51.3h1v1h-1zM247.3 51.1h1v1h-1zM250.7 51.7h1v1h-1zM258.2 50.6h1v1h-1zM228.7 53.9h1v1h-1zM232.9 52.6h1v1h-1zM238.4 54.1h1v1h-1zM241.9 53.1h1v1h-1zM246.9 55.0h1v1h-1zM248.4 53.5h1v1h-1zM254.1 54.6h1v1h-1zM258.7 53.7h1v1h-1zM262.4 54.4h1v1h-1zM264.9 54.2h1v1h-1zM228.3 57.2h1v1h-1zM230.6 57.6h1v1h-1zM236.1 57.9h1v1h-1zM239.1 57.3h1v1h-1zM243.5 58.2h1v1h-1zM247.6 57.1h1v1h-1zM251.5 56.1h1v1h-1zM254.2 58.0h1v1h-1zM260.9 57.7h1v1h-1zM263.2 56.5h1v1h-1zM267.5 58.8h1v1h-1zM225.5 62.2h1v1h-1zM229.7 60.8h1v1h-1zM232.9 61.0h1v1h-1zM238.8 59.5h1v1h-1zM242.3 61.8h1v1h-1zM246.6 61.6h1v1h-1zM250.4 60.9h1v1h-1zM253.7 60.7h1v1h-1zM256.3 61.9h1v1h-1zM261.7 60.1h1v1h-1zM265.5 60.8h1v1h-1zM223.8 64.2h1v1h-1zM226.2 63.6h1v1h-1zM230.6 64.6h1v1h-1zM236.5 65.2h1v1h-1zM240.3 65.2h1v1h-1zM242.8 65.3h1v1h-1zM248.0 63.2h1v1h-1zM250.1 63.0h1v1h-1zM256.2 63.7h1v1h-1zM258.4 64.7h1v1h-1zM263.1 63.2h1v1h-1zM225.0 67.7h1v1h-1zM228.2 67.5h1v1h-1zM233.3 66.9h1v1h-1zM236.4 68.9h1v1h-1zM241.5 67.0h1v1h-1zM245.8 68.7h1v1h-1zM248.2 66.5h1v1h-1zM252.5 68.4h1v1h-1zM256.5 68.4h1v1h-1zM223.2 71.5h1v1h-1zM227.0 71.7h1v1h-1zM230.3 70.7h1v1h-1zM236.8 72.3h1v1h-1zM239.0 72.3h1v1h-1zM243.0 72.5h1v1h-1zM248.2 71.0h1v1h-1zM250.8 69.9h1v1h-1zM256.6 70.0h1v1h-1zM224.7 75.2h1v1h-1zM229.3 73.9h1v1h-1zM232.4 75.2h1v1h-1zM236.9 74.7h1v1h-1zM241.0 75.8h1v1h-1zM246.6 73.4h1v1h-1zM248.7 74.3h1v1h-1zM254.9 75.5h1v1h-1zM222.8 78.8h1v1h-1zM226.3 77.3h1v1h-1zM232.7 77.4h1v1h-1zM236.2 78.5h1v1h-1zM240.5 77.8h1v1h-1zM243.1 77.6h1v1h-1zM248.5 78.5h1v1h-1zM222.3 81.3h1v1h-1zM225.7 80.9h1v1h-1zM228.3 81.0h1v1h-1zM234.6 81.9h1v1h-1zM238.7 81.6h1v1h-1zM240.9 82.5h1v1h-1zM246.4 80.3h1v1h-1zM250.0 80.5h1v1h-1zM223.2 86.5h1v1h-1zM228.6 84.6h1v1h-1zM230.8 85.1h1v1h-1zM234.4 85.6h1v1h-1zM238.2 83.8h1v1h-1zM244.9 84.6h1v1h-1zM220.8 88.7h1v1h-1zM225.0 87.9h1v1h-1zM228.3 88.0h1v1h-1zM234.9 88.5h1v1h-1zM237.9 89.0h1v1h-1zM242.7 88.3h1v1h-1zM222.3 92.4h1v1h-1zM226.9 92.9h1v1h-1zM231.5 93.1h1v1h-1zM234.5 92.1h1v1h-1zM240.3 90.9h1v1h-1zM222.4 96.7h1v1h-1zM226.5 96.2h1v1h-1zM230.0 94.6h1v1h-1zM233.3 94.6h1v1h-1zM222.5 98.3h1v1h-1z"/>
<g stroke="#111" stroke-width="1">
<line x1="67.00" y1="281.0" x2="67.00" y2="275.0"/>
<line x1="67.00" y1="8.5" x2="67.00" y2="14.5"/>
<line x1="67.0" y1="281.00" x2="73.0" y2="281.00"/>
<line x1="340.0" y1="281.00" x2="334.0" y2="281.00"/>
<line x1="121.60" y1="281.0" x2="121.60" y2="275.0"/>
<line x1="121.60" y1="8.5" x2="121.60" y2="14.5"/>
<line x1="67.0" y1="226.50" x2="73.0" y2="226.50"/>
<line x1="340.0" y1="226.50" x2="334.0" y2="226.50"/>
<line x1="176.20" y1="281.0" x2="176.20" y2="275.0"/>
<line x1="176.20" y1="8.5" x2="176.20" y2="14.5"/>
<line x1="67.0" y1="172.00" x2="73.0" y2="172.00"/>
<line x1="340.0" y1="172.00" x2="334.0" y2="172.00"/>
<line x1="230.80" y1="281.0" x2="230.80" y2="275.0"/>
<line x1="230.80" y1="8.5" x2="230.80" y2="14.5"/>
<line x1="67.0" y1="117.50" x2="73.0" y2="117.50"/>
<line x1="340.0" y1="117.50" x2="334.0" y2="117.50"/>
<line x1="285.40" y1="281.0" x2="285.40" y2="275.0"/>
<line x1="285.40" y1="8.5" x2="285.40" y2="14.5"/>
<line x1="67.0" y1="63.00" x2="73.0" y2="63.00"/>
<line x1="340.0" y1="63.00" x2="334.0" y2="63.00"/>
<line x1="340.00" y1="281.0" x2="340.00" y2="275.0"/>
<line x1="340.00" y1="8.5" x2="340.00" y2="14.5"/>
<line x1="67.0" y1="8.50" x2="73.0" y2="8.50"/>
<line x1="340.0" y1="8.50" x2="334.0" y2="8.50"/>
</g>
<rect x="67.0" y="8.5" width="273.0" height="272.5" fill="none" stroke="#111" stroke-width="1.2"/>
<g font-size="15.6" fill="#111">
<text x="53.77" y="303.90">−</text><text x="62.88" y="302.50">2</text><text x="71.56" y="302.50">0</text>
<text x="31.54" y="288.30">−</text><text x="40.65" y="286.90">2</text><text x="49.33" y="286.90">0</text>
<text x="108.37" y="303.90">−</text><path transform="translate(117.48,302.50) scale(15.6,-15.6)" d="M0.262 0H0.338V0.715H0.277C0.257 0.64 0.196 0.605 0.09 0.596V0.54H0.262Z"/><text x="126.16" y="302.50">5</text>
<text x="31.54" y="233.80">−</text><path transform="translate(40.65,232.40) scale(15.6,-15.6)" d="M0.262 0H0.338V0.715H0.277C0.257 0.64 0.196 0.605 0.09 0.596V0.54H0.262Z"/><text x="49.33" y="232.40">5</text>
<text x="162.97" y="303.90">−</text><path transform="translate(172.08,302.50) scale(15.6,-15.6)" d="M0.262 0H0.338V0.715H0.277C0.257 0.64 0.196 0.605 0.09 0.596V0.54H0.262Z"/><text x="180.76" y="302.50">0</text>
<text x="31.54" y="179.30">−</text><path transform="translate(40.65,177.90) scale(15.6,-15.6)" d="M0.262 0H0.338V0.715H0.277C0.257 0.64 0.196 0.605 0.09 0.596V0.54H0.262Z"/><text x="49.33" y="177.90">0</text>
<text x="221.91" y="303.90">−</text><text x="231.02" y="302.50">5</text>
<text x="40.22" y="124.80">−</text><text x="49.33" y="123.40">5</text>
<text x="281.06" y="302.50">0</text>
<text x="49.33" y="68.90">0</text>
<text x="335.66" y="302.50">5</text>
<text x="49.33" y="14.40">5</text>
</g>
<text transform="translate(78.5,41.5) scale(1.0,1)" font-size="28.6" font-weight="bold" fill="#000">A</text>
<g transform="translate(129.8,325.5)" fill="#111"><text x="0" y="0" font-size="15.5">Δ</text><text x="9.6" y="4.2" font-size="12">solv</text><text x="32.6" y="-0.2" font-size="16.4" font-style="italic">G</text><text x="44.7" y="-9.0" font-size="10.8">o</text><text x="43.9" y="4.0" font-size="11.6">exp</text><text x="68.40" y="0" font-size="15.5">/ kcal mol</text><text x="133.50" y="-7.3" font-size="12">−</text><path transform="translate(140.51,-7.30) scale(12,-12)" d="M0.262 0H0.338V0.715H0.277C0.257 0.64 0.196 0.605 0.09 0.596V0.54H0.262Z"/></g>
<g transform="translate(19.9,220.2) rotate(-90)" fill="#111"><text x="0" y="0" font-size="15.5">Δ</text><text x="9.6" y="4.2" font-size="12">solv</text><text x="32.6" y="-0.2" font-size="16.4" font-style="italic">G</text><text x="44.7" y="-9.0" font-size="10.8">o</text><text x="43.9" y="4.0" font-size="11.6">calc</text><text x="70.32" y="0" font-size="15.5">/ kcal mol</text><text x="135.42" y="-7.3" font-size="12">−</text><path transform="translate(142.43,-7.30) scale(12,-12)" d="M0.262 0H0.338V0.715H0.277C0.257 0.64 0.196 0.605 0.09 0.596V0.54H0.262Z"/></g>
<g stroke="#2a2a2a" stroke-width="0.95" stroke-dasharray="2.2 2.6" fill="none">
<line x1="428.0" y1="63.00" x2="701.0" y2="63.00"/>
<line x1="646.40" y1="8.5" x2="646.40" y2="281.0"/>
</g>
<line x1="428.0" y1="281.0" x2="701.0" y2="8.5" stroke="#333" stroke-width="0.8"/>
<line x1="428.00" y1="162.30" x2="701.00" y2="10.35" stroke="#c81010" stroke-width="1.1" stroke-dasharray="5 4"/>
<line x1="428.00" y1="264.00" x2="701.00" y2="25.83" stroke="#1212da" stroke-width="1.1" stroke-dasharray="5 4"/>
<line x1="428.00" y1="233.04" x2="701.00" y2="49.48" stroke="#2cc0f0" stroke-width="1.1" stroke-dasharray="5 4"/>
<g fill="none" stroke="#c81010" stroke-width="1.15"><rect x="525.1" y="49.1" width="8.3" height="8.3"/><rect x="506.9" y="91.5" width="8.3" height="8.3"/><rect x="531.1" y="83.2" width="8.3" height="8.3"/><rect x="539.0" y="76.5" width="8.3" height="8.3"/><rect x="542.6" y="80.1" width="8.3" height="8.3"/><rect x="548.5" y="75.3" width="8.3" height="8.3"/><rect x="547.2" y="82.5" width="8.3" height="8.3"/><rect x="552.1" y="81.3" width="8.3" height="8.3"/><rect x="544.9" y="87.2" width="8.3" height="8.3"/><rect x="552.1" y="88.4" width="8.3" height="8.3"/><rect x="524.6" y="93.2" width="8.3" height="8.3"/><rect x="530.6" y="93.2" width="8.3" height="8.3"/><rect x="473.0" y="122.6" width="8.3" height="8.3"/><rect x="476.2" y="125.9" width="8.3" height="8.3"/><rect x="473.0" y="136.5" width="8.3" height="8.3"/><rect x="436.2" y="172.7" width="8.3" height="8.3"/><rect x="446.8" y="163.7" width="8.3" height="8.3"/><rect x="454.2" y="157.9" width="8.3" height="8.3"/><rect x="455.0" y="149.8" width="8.3" height="8.3"/><rect x="469.7" y="154.7" width="8.3" height="8.3"/><rect x="473.0" y="154.7" width="8.3" height="8.3"/><rect x="472.2" y="138.3" width="8.3" height="8.3"/><rect x="477.1" y="141.5" width="8.3" height="8.3"/><rect x="523.1" y="92.3" width="8.3" height="8.3"/><rect x="528.0" y="95.6" width="8.3" height="8.3"/><rect x="527.1" y="98.9" width="8.3" height="8.3"/><rect x="507.5" y="102.2" width="8.3" height="8.3"/><rect x="515.6" y="103.0" width="8.3" height="8.3"/><rect x="517.4" y="106.3" width="8.3" height="8.3"/><rect x="506.7" y="107.1" width="8.3" height="8.3"/><rect x="488.7" y="114.4" width="8.3" height="8.3"/><rect x="494.4" y="116.1" width="8.3" height="8.3"/><rect x="500.2" y="114.4" width="8.3" height="8.3"/><rect x="505.1" y="112.8" width="8.3" height="8.3"/><rect x="510.0" y="114.4" width="8.3" height="8.3"/><rect x="515.6" y="115.3" width="8.3" height="8.3"/><rect x="496.9" y="119.4" width="8.3" height="8.3"/><rect x="502.6" y="120.2" width="8.3" height="8.3"/><rect x="508.4" y="118.5" width="8.3" height="8.3"/><rect x="514.1" y="118.5" width="8.3" height="8.3"/><rect x="492.0" y="127.5" width="8.3" height="8.3"/><rect x="499.4" y="127.5" width="8.3" height="8.3"/><rect x="505.1" y="125.9" width="8.3" height="8.3"/><rect x="517.4" y="126.8" width="8.3" height="8.3"/><rect x="521.5" y="128.4" width="8.3" height="8.3"/><rect x="482.2" y="128.4" width="8.3" height="8.3"/><rect x="482.2" y="134.2" width="8.3" height="8.3"/><rect x="518.1" y="138.2" width="8.3" height="8.3"/><rect x="479.7" y="140.8" width="8.3" height="8.3"/><rect x="494.4" y="156.3" width="8.3" height="8.3"/><rect x="505.9" y="146.4" width="8.3" height="8.3"/><rect x="514.1" y="141.5" width="8.3" height="8.3"/><rect x="519.0" y="142.3" width="8.3" height="8.3"/><rect x="505.9" y="164.4" width="8.3" height="8.3"/><rect x="485.4" y="136.7" width="8.3" height="8.3"/><rect x="583.0" y="54.4" width="8.3" height="8.3"/><rect x="586.2" y="53.5" width="8.3" height="8.3"/><rect x="578.1" y="60.1" width="8.3" height="8.3"/><rect x="574.8" y="63.4" width="8.3" height="8.3"/><rect x="570.6" y="67.4" width="8.3" height="8.3"/><rect x="538.8" y="99.8" width="8.3" height="8.3"/><rect x="543.6" y="102.2" width="8.3" height="8.3"/><rect x="548.6" y="104.6" width="8.3" height="8.3"/><rect x="547.0" y="107.9" width="8.3" height="8.3"/><rect x="558.4" y="111.2" width="8.3" height="8.3"/><rect x="566.6" y="111.2" width="8.3" height="8.3"/><rect x="568.2" y="101.4" width="8.3" height="8.3"/><rect x="561.6" y="94.0" width="8.3" height="8.3"/><rect x="553.5" y="94.0" width="8.3" height="8.3"/><rect x="574.8" y="94.0" width="8.3" height="8.3"/><rect x="581.4" y="94.0" width="8.3" height="8.3"/><rect x="658.1" y="34.4" width="8.3" height="8.3"/><rect x="646.6" y="33.4" width="8.3" height="8.3"/><rect x="645.6" y="30.2" width="8.3" height="8.3"/><rect x="639.4" y="37.6" width="8.3" height="8.3"/><rect x="634.1" y="38.6" width="8.3" height="8.3"/><rect x="628.0" y="39.6" width="8.3" height="8.3"/><rect x="621.6" y="40.6" width="8.3" height="8.3"/><rect x="615.5" y="41.6" width="8.3" height="8.3"/><rect x="609.1" y="42.8" width="8.3" height="8.3"/><rect x="603.0" y="41.6" width="8.3" height="8.3"/><rect x="631.1" y="49.0" width="8.3" height="8.3"/><rect x="623.8" y="51.1" width="8.3" height="8.3"/><rect x="617.6" y="48.0" width="8.3" height="8.3"/><rect x="611.2" y="46.9" width="8.3" height="8.3"/><rect x="605.1" y="48.0" width="8.3" height="8.3"/><rect x="628.0" y="54.1" width="8.3" height="8.3"/><rect x="620.6" y="54.1" width="8.3" height="8.3"/><rect x="613.4" y="54.1" width="8.3" height="8.3"/><rect x="606.1" y="55.2" width="8.3" height="8.3"/><rect x="615.5" y="61.4" width="8.3" height="8.3"/><rect x="608.1" y="62.6" width="8.3" height="8.3"/><rect x="603.0" y="68.8" width="8.3" height="8.3"/><rect x="610.2" y="68.8" width="8.3" height="8.3"/><rect x="533.9" y="75.8" width="8.3" height="8.3"/><rect x="540.9" y="73.8" width="8.3" height="8.3"/><rect x="548.9" y="72.8" width="8.3" height="8.3"/><rect x="557.9" y="72.8" width="8.3" height="8.3"/><rect x="553.1" y="95.0" width="8.3" height="8.3"/><rect x="561.2" y="99.9" width="8.3" height="8.3"/><rect x="571.1" y="96.6" width="8.3" height="8.3"/><rect x="566.1" y="109.8" width="8.3" height="8.3"/><rect x="575.9" y="104.8" width="8.3" height="8.3"/><rect x="579.1" y="95.0" width="8.3" height="8.3"/><rect x="558.0" y="113.0" width="8.3" height="8.3"/><rect x="544.9" y="104.8" width="8.3" height="8.3"/><rect x="541.6" y="96.6" width="8.3" height="8.3"/><rect x="584.9" y="90.8" width="8.3" height="8.3"/><rect x="636.3" y="40.6" width="8.3" height="8.3"/><rect x="639.6" y="41.5" width="8.3" height="8.3"/><rect x="643.9" y="41.2" width="8.3" height="8.3"/><rect x="615.4" y="44.5" width="8.3" height="8.3"/><rect x="621.8" y="44.6" width="8.3" height="8.3"/><rect x="625.1" y="45.8" width="8.3" height="8.3"/><rect x="628.4" y="43.6" width="8.3" height="8.3"/><rect x="635.1" y="45.6" width="8.3" height="8.3"/><rect x="637.6" y="43.7" width="8.3" height="8.3"/><rect x="643.6" y="46.0" width="8.3" height="8.3"/><rect x="598.7" y="47.7" width="8.3" height="8.3"/><rect x="604.8" y="49.7" width="8.3" height="8.3"/><rect x="609.5" y="47.8" width="8.3" height="8.3"/><rect x="614.9" y="47.6" width="8.3" height="8.3"/><rect x="616.6" y="47.8" width="8.3" height="8.3"/><rect x="622.4" y="47.2" width="8.3" height="8.3"/><rect x="626.1" y="48.1" width="8.3" height="8.3"/><rect x="631.8" y="47.4" width="8.3" height="8.3"/><rect x="635.7" y="49.8" width="8.3" height="8.3"/><rect x="642.1" y="49.0" width="8.3" height="8.3"/><rect x="583.8" y="54.0" width="8.3" height="8.3"/><rect x="587.5" y="52.6" width="8.3" height="8.3"/><rect x="594.1" y="53.7" width="8.3" height="8.3"/><rect x="598.6" y="53.1" width="8.3" height="8.3"/><rect x="603.3" y="53.7" width="8.3" height="8.3"/><rect x="606.4" y="53.0" width="8.3" height="8.3"/><rect x="612.6" y="53.6" width="8.3" height="8.3"/><rect x="615.6" y="53.4" width="8.3" height="8.3"/><rect x="621.5" y="52.7" width="8.3" height="8.3"/><rect x="625.2" y="52.1" width="8.3" height="8.3"/><rect x="629.6" y="52.8" width="8.3" height="8.3"/><rect x="632.5" y="52.9" width="8.3" height="8.3"/><rect x="639.9" y="53.6" width="8.3" height="8.3"/><rect x="582.0" y="55.5" width="8.3" height="8.3"/><rect x="587.2" y="56.3" width="8.3" height="8.3"/><rect x="591.5" y="57.7" width="8.3" height="8.3"/><rect x="594.8" y="54.8" width="8.3" height="8.3"/><rect x="599.5" y="56.9" width="8.3" height="8.3"/><rect x="603.7" y="55.3" width="8.3" height="8.3"/><rect x="610.4" y="56.8" width="8.3" height="8.3"/><rect x="613.4" y="57.6" width="8.3" height="8.3"/><rect x="617.6" y="56.9" width="8.3" height="8.3"/><rect x="621.7" y="56.1" width="8.3" height="8.3"/><rect x="628.1" y="57.6" width="8.3" height="8.3"/><rect x="632.8" y="56.0" width="8.3" height="8.3"/><rect x="636.4" y="55.8" width="8.3" height="8.3"/><rect x="639.5" y="56.3" width="8.3" height="8.3"/><rect x="580.2" y="60.2" width="8.3" height="8.3"/><rect x="583.8" y="61.3" width="8.3" height="8.3"/><rect x="590.4" y="60.1" width="8.3" height="8.3"/><rect x="592.0" y="58.8" width="8.3" height="8.3"/><rect x="599.0" y="58.8" width="8.3" height="8.3"/><rect x="603.0" y="60.5" width="8.3" height="8.3"/><rect x="606.2" y="61.2" width="8.3" height="8.3"/><rect x="609.8" y="59.1" width="8.3" height="8.3"/><rect x="615.7" y="58.7" width="8.3" height="8.3"/><rect x="621.4" y="59.4" width="8.3" height="8.3"/><rect x="623.7" y="58.8" width="8.3" height="8.3"/><rect x="629.8" y="60.1" width="8.3" height="8.3"/><rect x="573.8" y="63.1" width="8.3" height="8.3"/><rect x="576.9" y="63.6" width="8.3" height="8.3"/><rect x="582.7" y="64.2" width="8.3" height="8.3"/><rect x="587.0" y="64.9" width="8.3" height="8.3"/><rect x="590.8" y="65.0" width="8.3" height="8.3"/><rect x="596.9" y="62.8" width="8.3" height="8.3"/><rect x="601.5" y="64.8" width="8.3" height="8.3"/><rect x="603.4" y="64.0" width="8.3" height="8.3"/><rect x="609.5" y="65.4" width="8.3" height="8.3"/><rect x="613.2" y="64.3" width="8.3" height="8.3"/><rect x="619.3" y="65.1" width="8.3" height="8.3"/><rect x="624.0" y="64.0" width="8.3" height="8.3"/><rect x="565.8" y="69.3" width="8.3" height="8.3"/><rect x="572.0" y="67.5" width="8.3" height="8.3"/><rect x="574.0" y="67.8" width="8.3" height="8.3"/><rect x="580.0" y="68.9" width="8.3" height="8.3"/><rect x="584.3" y="66.5" width="8.3" height="8.3"/><rect x="589.8" y="66.7" width="8.3" height="8.3"/><rect x="594.3" y="67.0" width="8.3" height="8.3"/><rect x="597.3" y="68.9" width="8.3" height="8.3"/><rect x="601.2" y="66.9" width="8.3" height="8.3"/><rect x="606.9" y="68.7" width="8.3" height="8.3"/><rect x="612.4" y="68.6" width="8.3" height="8.3"/><rect x="617.3" y="68.0" width="8.3" height="8.3"/><rect x="565.2" y="73.2" width="8.3" height="8.3"/><rect x="567.7" y="73.0" width="8.3" height="8.3"/><rect x="574.6" y="72.0" width="8.3" height="8.3"/><rect x="577.8" y="71.0" width="8.3" height="8.3"/><rect x="582.2" y="71.9" width="8.3" height="8.3"/><rect x="586.9" y="70.4" width="8.3" height="8.3"/><rect x="592.6" y="72.0" width="8.3" height="8.3"/><rect x="595.3" y="72.9" width="8.3" height="8.3"/><rect x="600.3" y="71.9" width="8.3" height="8.3"/><rect x="605.2" y="70.6" width="8.3" height="8.3"/><rect x="609.2" y="71.7" width="8.3" height="8.3"/><rect x="566.9" y="75.3" width="8.3" height="8.3"/><rect x="570.4" y="76.2" width="8.3" height="8.3"/><rect x="574.1" y="76.5" width="8.3" height="8.3"/><rect x="578.7" y="75.9" width="8.3" height="8.3"/><rect x="583.6" y="74.9" width="8.3" height="8.3"/><rect x="588.9" y="75.6" width="8.3" height="8.3"/><rect x="593.0" y="75.5" width="8.3" height="8.3"/><rect x="597.9" y="74.7" width="8.3" height="8.3"/><rect x="601.4" y="76.2" width="8.3" height="8.3"/><rect x="563.3" y="78.4" width="8.3" height="8.3"/><rect x="569.6" y="79.5" width="8.3" height="8.3"/><rect x="574.0" y="78.5" width="8.3" height="8.3"/><rect x="577.3" y="80.3" width="8.3" height="8.3"/><rect x="580.6" y="78.8" width="8.3" height="8.3"/><rect x="587.2" y="81.0" width="8.3" height="8.3"/><rect x="592.6" y="78.5" width="8.3" height="8.3"/><rect x="561.9" y="83.4" width="8.3" height="8.3"/><rect x="566.7" y="82.1" width="8.3" height="8.3"/><rect x="571.5" y="84.7" width="8.3" height="8.3"/><rect x="574.3" y="83.5" width="8.3" height="8.3"/><rect x="580.6" y="83.3" width="8.3" height="8.3"/><rect x="583.4" y="82.6" width="8.3" height="8.3"/><rect x="588.9" y="82.1" width="8.3" height="8.3"/><rect x="563.6" y="87.4" width="8.3" height="8.3"/><rect x="567.1" y="87.1" width="8.3" height="8.3"/><rect x="573.5" y="87.9" width="8.3" height="8.3"/><rect x="576.8" y="88.9" width="8.3" height="8.3"/><rect x="582.6" y="87.0" width="8.3" height="8.3"/><rect x="564.9" y="92.8" width="8.3" height="8.3"/><rect x="569.8" y="91.3" width="8.3" height="8.3"/><rect x="574.3" y="91.4" width="8.3" height="8.3"/></g>
<g fill="none" stroke="#2cc0f0" stroke-width="1.25" stroke-linejoin="miter"><path d="M440.3 187.4L444.3 193.6H436.3Z"/><path d="M450.9 187.8L454.9 194.0H446.9Z"/><path d="M458.3 183.6L462.3 189.8H454.3Z"/><path d="M474.6 180.0L478.6 186.2H470.6Z"/><path d="M480.4 179.2L484.4 185.4H476.4Z"/><path d="M477.1 184.9L481.1 191.1H473.1Z"/><path d="M475.5 189.1L479.5 195.3H471.5Z"/><path d="M481.2 202.2L485.2 208.4H477.2Z"/><path d="M458.3 219.4L462.3 225.6H454.3Z"/><path d="M532.9 138.2L536.9 144.4H528.9Z"/><path d="M511.6 149.7L515.6 155.9H507.6Z"/><path d="M521.5 141.5L525.5 147.7H517.5Z"/><path d="M515.7 157.9L519.7 164.1H511.7Z"/><path d="M520.6 156.3L524.6 162.5H516.6Z"/><path d="M501.0 174.3L505.0 180.5H497.0Z"/><path d="M497.7 177.5L501.7 183.7H493.7Z"/><path d="M486.3 180.0L490.3 186.2H482.3Z"/><path d="M523.1 170.2L527.1 176.4H519.1Z"/><path d="M525.6 179.2L529.6 185.4H521.6Z"/><path d="M530.5 177.5L534.5 183.7H526.5Z"/><path d="M532.1 136.6L536.1 142.8H528.1Z"/><path d="M487.9 199.7L491.9 205.9H483.9Z"/><path d="M484.6 190.7L488.6 196.9H480.6Z"/><path d="M522.3 205.4L526.3 211.6H518.3Z"/><path d="M526.4 214.4L530.4 220.6H522.4Z"/><path d="M515.7 198.9L519.7 205.1H511.7Z"/><path d="M652.9 66.6L656.9 72.8H648.9Z"/><path d="M662.3 75.0L666.3 81.2H658.3Z"/><path d="M639.4 69.8L643.4 76.0H635.4Z"/><path d="M642.5 80.2L646.5 86.4H638.5Z"/><path d="M646.7 87.5L650.7 93.7H642.7Z"/><path d="M536.6 138.3L540.6 144.5H532.6Z"/><path d="M544.8 146.5L548.8 152.7H540.8Z"/><path d="M557.9 146.5L561.9 152.7H553.9Z"/><path d="M553.0 164.5L557.0 170.7H549.0Z"/><path d="M561.1 157.9L565.1 164.1H557.1Z"/><path d="M572.6 153.0L576.6 159.2H568.6Z"/><path d="M539.8 151.4L543.8 157.6H535.8Z"/><path d="M534.9 177.6L538.9 183.8H530.9Z"/><path d="M628.4 95.6L632.4 101.8H624.4Z"/><path d="M649.3 93.2L653.3 99.4H645.3Z"/><path d="M652.5 68.8L656.5 75.0H648.5Z"/><path d="M617.0 101.2L621.0 107.4H613.0Z"/><path d="M610.8 111.6L614.8 117.8H606.8Z"/><path d="M615.0 121.8L619.0 128.0H611.0Z"/><path d="M647.8 75.4L651.8 81.6H643.8Z"/><path d="M640.6 83.4L644.6 89.6H636.6Z"/><path d="M649.0 80.0L653.0 86.2H645.0Z"/><path d="M631.4 88.9L635.4 95.1H627.4Z"/><path d="M638.7 87.8L642.7 94.0H634.7Z"/><path d="M625.6 95.1L629.6 101.3H621.6Z"/><path d="M622.2 99.2L626.2 105.4H618.2Z"/><path d="M623.0 105.1L627.0 111.3H619.0Z"/><path d="M618.8 111.3L622.8 117.5H614.8Z"/><path d="M613.4 119.7L617.4 125.9H609.4Z"/><path d="M619.8 117.7L623.8 123.9H615.8Z"/><path d="M609.8 126.5L613.8 132.7H605.8Z"/><path d="M618.3 124.6L622.3 130.8H614.3Z"/><path d="M606.6 132.8L610.6 139.0H602.6Z"/><path d="M615.8 132.0L619.8 138.2H611.8Z"/><path d="M603.5 136.6L607.5 142.8H599.5Z"/><path d="M609.5 138.8L613.5 145.0H605.5Z"/><path d="M563.6 134.1L567.6 140.3H559.6Z"/><path d="M540.2 136.4L544.2 142.6H536.2Z"/><path d="M544.7 136.2L548.7 142.4H540.7Z"/><path d="M553.9 139.1L557.9 145.3H549.9Z"/><path d="M560.1 136.2L564.1 142.4H556.1Z"/><path d="M542.1 141.1L546.1 147.3H538.1Z"/><path d="M549.3 142.4L553.3 148.6H545.3Z"/><path d="M555.8 145.0L559.8 151.2H551.8Z"/><path d="M562.7 142.6L566.7 148.8H558.7Z"/><path d="M550.8 150.7L554.8 156.9H546.8Z"/><path d="M559.6 149.7L563.6 155.9H555.6Z"/><path d="M564.3 148.7L568.3 154.9H560.3Z"/></g>
<g fill="none" stroke="#1212da" stroke-width="1.25" stroke-linejoin="miter"><path d="M477.1 189.8L481.1 196.0H473.1Z"/><path d="M440.3 230.0L444.3 236.2H436.3Z"/><path d="M450.9 226.4L454.9 232.6H446.9Z"/><path d="M458.3 221.0L462.3 227.2H454.3Z"/><path d="M459.1 238.2L463.1 244.4H455.1Z"/><path d="M477.1 191.5L481.1 197.7H473.1Z"/><path d="M477.1 207.9L481.1 214.1H473.1Z"/><path d="M474.6 216.9L478.6 223.1H470.6Z"/><path d="M477.1 223.4L481.1 229.6H473.1Z"/><path d="M481.2 212.0L485.2 218.2H477.2Z"/><path d="M481.2 218.5L485.2 224.7H477.2Z"/><path d="M508.7 233.6L512.7 239.8H504.7Z"/><path d="M529.6 105.4L533.6 111.6H525.6Z"/><path d="M535.4 130.8L539.4 137.0H531.4Z"/><path d="M530.5 144.8L534.5 151.0H526.5Z"/><path d="M531.3 151.3L535.3 157.5H527.3Z"/><path d="M520.6 160.3L524.6 166.5H516.6Z"/><path d="M510.8 165.3L514.8 171.5H506.8Z"/><path d="M518.2 172.6L522.2 178.8H514.2Z"/><path d="M511.6 175.1L515.6 181.3H507.6Z"/><path d="M508.4 177.5L512.4 183.7H504.4Z"/><path d="M516.5 177.5L520.5 183.7H512.5Z"/><path d="M527.2 173.4L531.2 179.6H523.2Z"/><path d="M523.9 183.3L527.9 189.5H519.9Z"/><path d="M498.5 184.9L502.5 191.1H494.5Z"/><path d="M503.5 185.7L507.5 191.9H499.5Z"/><path d="M507.6 188.2L511.6 194.4H503.6Z"/><path d="M491.2 186.5L495.2 192.7H487.2Z"/><path d="M532.1 170.2L536.1 176.4H528.1Z"/><path d="M492.8 193.2L496.8 199.4H488.8Z"/><path d="M496.1 198.1L500.1 204.3H492.1Z"/><path d="M498.5 192.3L502.5 198.5H494.5Z"/><path d="M504.3 189.1L508.3 195.3H500.3Z"/><path d="M507.6 191.5L511.6 197.7H503.6Z"/><path d="M510.0 197.3L514.0 203.5H506.0Z"/><path d="M519.8 194.0L523.8 200.2H515.8Z"/><path d="M522.3 198.9L526.3 205.1H518.3Z"/><path d="M531.3 193.2L535.3 199.4H527.3Z"/><path d="M503.5 203.0L507.5 209.2H499.5Z"/><path d="M509.2 205.4L513.2 211.6H505.2Z"/><path d="M510.8 211.2L514.8 217.4H506.8Z"/><path d="M498.5 216.1L502.5 222.3H494.5Z"/><path d="M486.3 210.3L490.3 216.5H482.3Z"/><path d="M483.8 217.7L487.8 223.9H479.8Z"/><path d="M518.2 217.7L522.2 223.9H514.2Z"/><path d="M523.1 215.3L527.1 221.5H519.1Z"/><path d="M525.6 221.0L529.6 227.2H521.6Z"/><path d="M651.9 54.1L655.9 60.3H647.9Z"/><path d="M662.3 59.3L666.3 65.5H658.3Z"/><path d="M641.5 61.4L645.5 67.6H637.5Z"/><path d="M637.3 62.5L641.3 68.7H633.3Z"/><path d="M643.5 64.5L647.5 70.8H639.5Z"/><path d="M632.1 67.7L636.1 73.9H628.1Z"/><path d="M649.8 73.9L653.8 80.1H645.8Z"/><path d="M638.3 75.0L642.3 81.2H634.3Z"/><path d="M625.8 72.9L629.8 79.1H621.8Z"/><path d="M630.0 79.1L634.0 85.3H626.0Z"/><path d="M607.1 73.9L611.1 80.1H603.1Z"/><path d="M615.4 83.3L619.4 89.5H611.4Z"/><path d="M623.8 83.3L627.8 89.5H619.8Z"/><path d="M634.2 85.4L638.2 91.6H630.2Z"/><path d="M640.4 87.5L644.4 93.7H636.4Z"/><path d="M604.6 72.0L608.6 78.2H600.6Z"/><path d="M553.0 120.2L557.0 126.4H549.0Z"/><path d="M564.4 118.6L568.4 124.8H560.4Z"/><path d="M534.9 128.4L538.9 134.6H530.9Z"/><path d="M549.7 131.7L553.7 137.9H545.7Z"/><path d="M562.8 131.7L566.8 137.9H558.8Z"/><path d="M543.1 135.0L547.1 141.2H539.1Z"/><path d="M556.2 138.3L560.2 144.5H552.2Z"/><path d="M562.8 141.5L566.8 147.7H558.8Z"/><path d="M572.6 146.5L576.6 152.7H568.6Z"/><path d="M580.8 141.5L584.8 147.7H576.8Z"/><path d="M546.4 151.4L550.4 157.6H542.4Z"/><path d="M566.0 159.6L570.0 165.8H562.0Z"/><path d="M562.8 164.5L566.8 170.7H558.8Z"/><path d="M572.6 154.7L576.6 160.9H568.6Z"/><path d="M553.0 172.7L557.0 178.9H549.0Z"/><path d="M561.1 174.3L565.1 180.5H557.1Z"/><path d="M549.7 184.2L553.7 190.4H545.7Z"/><path d="M562.8 192.4L566.8 198.6H558.8Z"/><path d="M531.6 103.8L535.6 110.0H527.6Z"/><path d="M625.0 97.3L629.0 103.5H621.0Z"/><path d="M623.3 96.8L627.3 103.0H619.3Z"/><path d="M628.5 96.8L632.5 103.0H624.5Z"/><path d="M644.0 62.9L648.0 69.1H640.0Z"/><path d="M650.0 62.7L654.0 68.9H646.0Z"/><path d="M641.3 65.9L645.3 72.1H637.3Z"/><path d="M645.2 65.5L649.2 71.7H641.2Z"/><path d="M636.1 68.5L640.1 74.7H632.1Z"/><path d="M639.7 69.7L643.7 75.9H635.7Z"/><path d="M643.7 68.8L647.7 75.0H639.7Z"/><path d="M628.0 74.3L632.0 80.5H624.0Z"/><path d="M632.1 74.1L636.1 80.3H628.1Z"/><path d="M638.0 74.8L642.0 81.0H634.0Z"/><path d="M621.1 78.1L625.1 84.3H617.1Z"/><path d="M625.0 76.7L629.0 82.9H621.0Z"/><path d="M632.3 77.2L636.3 83.4H628.3Z"/><path d="M634.5 78.2L638.5 84.4H630.5Z"/><path d="M639.6 75.7L643.6 81.9H635.6Z"/><path d="M620.7 81.2L624.7 87.4H616.7Z"/><path d="M624.1 82.2L628.1 88.4H620.1Z"/><path d="M627.6 82.0L631.6 88.2H623.6Z"/><path d="M633.5 81.0L637.5 87.2H629.5Z"/><path d="M614.1 86.1L618.1 92.3H610.1Z"/><path d="M618.3 85.7L622.3 91.9H614.3Z"/><path d="M622.4 85.6L626.4 91.8H618.4Z"/><path d="M626.5 84.3L630.5 90.5H622.5Z"/><path d="M629.6 85.8L633.6 92.0H625.6Z"/><path d="M606.9 90.5L610.9 96.7H602.9Z"/><path d="M610.3 88.7L614.3 94.9H606.3Z"/><path d="M615.2 89.8L619.2 96.0H611.2Z"/><path d="M618.2 88.1L622.2 94.3H614.2Z"/><path d="M622.9 88.4L626.9 94.6H618.9Z"/><path d="M608.3 92.9L612.3 99.1H604.3Z"/><path d="M613.6 91.8L617.6 98.0H609.6Z"/><path d="M617.9 92.6L621.9 98.8H613.9Z"/><path d="M621.5 92.1L625.5 98.3H617.5Z"/><path d="M602.7 95.5L606.7 101.7H598.7Z"/><path d="M604.7 97.7L608.7 103.9H600.7Z"/><path d="M611.5 96.6L615.5 102.8H607.5Z"/><path d="M614.8 95.6L618.8 101.8H610.8Z"/><path d="M617.9 96.8L621.9 103.0H613.9Z"/><path d="M594.1 100.8L598.1 107.0H590.1Z"/><path d="M598.9 101.7L602.9 107.9H594.9Z"/><path d="M604.0 100.9L608.0 107.1H600.0Z"/><path d="M609.1 100.5L613.1 106.7H605.1Z"/><path d="M612.9 101.5L616.9 107.7H608.9Z"/><path d="M618.0 101.4L622.0 107.6H614.0Z"/><path d="M593.1 104.4L597.1 110.6H589.1Z"/><path d="M597.7 104.9L601.7 111.1H593.7Z"/><path d="M601.2 105.7L605.2 111.9H597.2Z"/><path d="M604.8 106.0L608.8 112.2H600.8Z"/><path d="M609.2 106.0L613.2 112.2H605.2Z"/><path d="M615.3 104.4L619.3 110.6H611.3Z"/><path d="M586.0 107.8L590.0 114.0H582.0Z"/><path d="M590.9 109.9L594.9 116.1H586.9Z"/><path d="M595.3 108.4L599.3 114.6H591.3Z"/><path d="M599.6 107.7L603.6 113.9H595.6Z"/><path d="M603.6 107.3L607.6 113.5H599.6Z"/><path d="M608.9 107.1L612.9 113.3H604.9Z"/><path d="M612.8 107.5L616.8 113.7H608.8Z"/><path d="M583.9 111.6L587.9 117.8H579.9Z"/><path d="M587.4 112.2L591.4 118.4H583.4Z"/><path d="M593.3 111.1L597.3 117.3H589.3Z"/><path d="M596.8 111.5L600.8 117.7H592.8Z"/><path d="M602.0 113.4L606.0 119.6H598.0Z"/><path d="M605.3 113.1L609.3 119.3H601.3Z"/><path d="M610.4 111.5L614.4 117.7H606.4Z"/><path d="M577.3 117.5L581.3 123.7H573.3Z"/><path d="M580.2 116.5L584.2 122.7H576.2Z"/><path d="M586.9 116.2L590.9 122.4H582.9Z"/><path d="M590.9 116.1L594.9 122.3H586.9Z"/><path d="M595.4 117.7L599.4 123.9H591.4Z"/><path d="M598.7 117.0L602.7 123.2H594.7Z"/><path d="M603.3 117.5L607.3 123.7H599.3Z"/><path d="M609.1 117.4L613.1 123.6H605.1Z"/><path d="M579.4 119.2L583.4 125.4H575.4Z"/><path d="M582.3 120.5L586.3 126.7H578.3Z"/><path d="M588.6 118.6L592.6 124.8H584.6Z"/><path d="M593.9 118.6L597.9 124.8H589.9Z"/><path d="M595.9 119.6L599.9 125.8H591.9Z"/><path d="M602.4 120.9L606.4 127.1H598.4Z"/><path d="M606.8 119.9L610.8 126.1H602.8Z"/><path d="M577.5 123.1L581.5 129.3H573.5Z"/><path d="M582.7 125.5L586.7 131.7H578.7Z"/><path d="M584.4 124.8L588.4 131.0H580.4Z"/><path d="M589.4 122.8L593.4 129.0H585.4Z"/><path d="M595.9 123.9L599.9 130.1H591.9Z"/><path d="M598.6 124.2L602.6 130.4H594.6Z"/><path d="M602.4 123.8L606.4 130.0H598.4Z"/><path d="M573.9 128.5L577.9 134.7H569.9Z"/><path d="M578.9 126.6L582.9 132.8H574.9Z"/><path d="M582.4 129.0L586.4 135.2H578.4Z"/><path d="M587.5 129.0L591.5 135.2H583.5Z"/><path d="M592.9 128.3L596.9 134.5H588.9Z"/><path d="M596.5 128.2L600.5 134.4H592.5Z"/><path d="M601.2 128.0L605.2 134.2H597.2Z"/><path d="M573.3 133.3L577.3 139.5H569.3Z"/><path d="M576.4 131.2L580.4 137.4H572.4Z"/><path d="M580.7 133.0L584.7 139.2H576.7Z"/><path d="M585.0 130.8L589.0 137.0H581.0Z"/><path d="M589.7 130.5L593.7 136.7H585.7Z"/><path d="M593.6 131.0L597.6 137.2H589.6Z"/><path d="M599.7 133.2L603.7 139.4H595.7Z"/><path d="M574.3 134.4L578.3 140.6H570.3Z"/><path d="M578.8 136.1L582.8 142.3H574.8Z"/><path d="M583.2 136.6L587.2 142.8H579.2Z"/><path d="M587.8 135.1L591.8 141.3H583.8Z"/><path d="M593.7 136.0L597.7 142.2H589.7Z"/><path d="M581.7 138.2L585.7 144.4H577.7Z"/><path d="M552.0 123.6L556.0 129.8H548.0Z"/><path d="M557.3 125.4L561.3 131.6H553.3Z"/><path d="M562.8 124.0L566.8 130.2H558.8Z"/><path d="M569.1 125.9L573.1 132.1H565.1Z"/><path d="M573.0 122.6L577.0 128.8H569.0Z"/><path d="M543.6 129.5L547.6 135.7H539.6Z"/><path d="M551.2 127.0L555.2 133.2H547.2Z"/><path d="M556.8 128.8L560.8 135.0H552.8Z"/><path d="M562.3 128.7L566.3 134.9H558.3Z"/><path d="M567.1 128.6L571.1 134.8H563.1Z"/><path d="M571.6 128.8L575.6 135.0H567.6Z"/><path d="M574.7 127.5L578.7 133.7H570.7Z"/><path d="M580.6 128.5L584.6 134.7H576.6Z"/><path d="M543.2 132.9L547.2 139.1H539.2Z"/><path d="M547.1 133.4L551.1 139.6H543.1Z"/><path d="M554.6 134.3L558.6 140.5H550.6Z"/><path d="M558.8 134.5L562.8 140.7H554.8Z"/><path d="M562.4 131.9L566.4 138.1H558.4Z"/><path d="M567.1 131.9L571.1 138.1H563.1Z"/><path d="M572.0 133.8L576.0 140.0H568.0Z"/><path d="M580.5 131.9L584.5 138.1H576.5Z"/><path d="M584.9 134.9L588.9 141.1H580.9Z"/><path d="M544.0 136.0L548.0 142.2H540.0Z"/><path d="M550.5 139.3L554.5 145.5H546.5Z"/><path d="M554.2 136.5L558.2 142.7H550.2Z"/><path d="M560.4 136.1L564.4 142.3H556.4Z"/><path d="M565.9 138.7L569.9 144.9H561.9Z"/><path d="M571.1 136.1L575.1 142.3H567.1Z"/><path d="M574.7 136.7L578.7 142.9H570.7Z"/><path d="M582.2 139.4L586.2 145.6H578.2Z"/><path d="M586.8 136.4L590.8 142.6H582.8Z"/><path d="M546.4 140.9L550.4 147.1H542.4Z"/><path d="M552.8 143.6L556.8 149.8H548.8Z"/><path d="M557.2 143.7L561.2 149.9H553.2Z"/><path d="M564.8 142.1L568.8 148.3H560.8Z"/><path d="M567.6 141.2L571.6 147.4H563.6Z"/><path d="M574.4 143.5L578.4 149.7H570.4Z"/><path d="M580.3 141.3L584.3 147.5H576.3Z"/><path d="M583.9 140.6L587.9 146.8H579.9Z"/><path d="M588.7 141.6L592.7 147.8H584.7Z"/></g>
<path fill="#555" d="M439.8 191.1h1v1h-1zM450.4 191.5h1v1h-1zM457.8 187.3h1v1h-1zM474.1 183.7h1v1h-1zM479.9 182.9h1v1h-1zM476.6 188.6h1v1h-1zM475.0 192.8h1v1h-1zM480.7 205.9h1v1h-1zM457.8 223.1h1v1h-1zM532.4 141.9h1v1h-1zM511.1 153.4h1v1h-1zM521.0 145.2h1v1h-1zM515.2 161.6h1v1h-1zM520.1 160.0h1v1h-1zM500.5 178.0h1v1h-1zM497.2 181.2h1v1h-1zM485.8 183.7h1v1h-1zM522.6 173.9h1v1h-1zM525.1 182.9h1v1h-1zM530.0 181.2h1v1h-1zM531.6 140.3h1v1h-1zM487.4 203.4h1v1h-1zM484.1 194.4h1v1h-1zM521.8 209.1h1v1h-1zM525.9 218.1h1v1h-1zM515.2 202.6h1v1h-1zM652.4 70.3h1v1h-1zM661.8 78.7h1v1h-1zM638.9 73.5h1v1h-1zM642.0 83.9h1v1h-1zM646.2 91.2h1v1h-1zM536.1 142.0h1v1h-1zM544.3 150.2h1v1h-1zM557.4 150.2h1v1h-1zM552.5 168.2h1v1h-1zM560.6 161.6h1v1h-1zM572.1 156.7h1v1h-1zM539.3 155.1h1v1h-1zM534.4 181.3h1v1h-1zM627.9 99.3h1v1h-1zM648.8 96.9h1v1h-1zM652.0 72.5h1v1h-1zM616.5 104.9h1v1h-1zM610.3 115.3h1v1h-1zM614.5 125.5h1v1h-1zM647.3 79.1h1v1h-1zM640.1 87.1h1v1h-1zM648.5 83.7h1v1h-1zM630.9 92.6h1v1h-1zM638.2 91.5h1v1h-1zM625.1 98.8h1v1h-1zM621.7 102.9h1v1h-1zM622.5 108.8h1v1h-1zM618.3 115.0h1v1h-1zM612.9 123.4h1v1h-1zM619.3 121.4h1v1h-1zM609.3 130.2h1v1h-1zM617.8 128.3h1v1h-1zM606.1 136.5h1v1h-1zM615.3 135.7h1v1h-1zM603.0 140.3h1v1h-1zM609.0 142.5h1v1h-1zM563.1 137.8h1v1h-1zM539.7 140.1h1v1h-1zM544.2 139.9h1v1h-1zM553.4 142.8h1v1h-1zM559.6 139.9h1v1h-1zM541.6 144.8h1v1h-1zM548.8 146.1h1v1h-1zM555.3 148.7h1v1h-1zM562.2 146.3h1v1h-1zM550.3 154.4h1v1h-1zM559.1 153.4h1v1h-1zM563.8 152.4h1v1h-1zM476.6 193.5h1v1h-1zM439.8 233.7h1v1h-1zM450.4 230.1h1v1h-1zM457.8 224.7h1v1h-1zM458.6 241.9h1v1h-1zM476.6 195.2h1v1h-1zM476.6 211.6h1v1h-1zM474.1 220.6h1v1h-1zM476.6 227.1h1v1h-1zM480.7 215.7h1v1h-1zM480.7 222.2h1v1h-1zM508.2 237.3h1v1h-1zM529.1 109.1h1v1h-1zM534.9 134.5h1v1h-1zM530.0 148.5h1v1h-1zM530.8 155.0h1v1h-1zM520.1 164.0h1v1h-1zM510.3 169.0h1v1h-1zM517.7 176.3h1v1h-1zM511.1 178.8h1v1h-1zM507.9 181.2h1v1h-1zM516.0 181.2h1v1h-1zM526.7 177.1h1v1h-1zM523.4 187.0h1v1h-1zM498.0 188.6h1v1h-1zM503.0 189.4h1v1h-1zM507.1 191.9h1v1h-1zM490.7 190.2h1v1h-1zM531.6 173.9h1v1h-1zM492.3 196.9h1v1h-1zM495.6 201.8h1v1h-1zM498.0 196.0h1v1h-1zM503.8 192.8h1v1h-1zM507.1 195.2h1v1h-1zM509.5 201.0h1v1h-1zM519.3 197.7h1v1h-1zM521.8 202.6h1v1h-1zM530.8 196.9h1v1h-1zM503.0 206.7h1v1h-1zM508.7 209.1h1v1h-1zM510.3 214.9h1v1h-1zM498.0 219.8h1v1h-1zM485.8 214.0h1v1h-1zM483.3 221.4h1v1h-1zM517.7 221.4h1v1h-1zM522.6 219.0h1v1h-1zM525.1 224.7h1v1h-1zM651.4 57.8h1v1h-1zM661.8 63.0h1v1h-1zM641.0 65.1h1v1h-1zM636.8 66.2h1v1h-1zM643.0 68.2h1v1h-1zM631.6 71.4h1v1h-1zM649.3 77.6h1v1h-1zM637.8 78.7h1v1h-1zM625.3 76.6h1v1h-1zM629.5 82.8h1v1h-1zM606.6 77.6h1v1h-1zM614.9 87.0h1v1h-1zM623.2 87.0h1v1h-1zM633.7 89.1h1v1h-1zM639.9 91.2h1v1h-1zM604.1 75.8h1v1h-1zM552.5 123.9h1v1h-1zM563.9 122.3h1v1h-1zM534.4 132.1h1v1h-1zM549.2 135.4h1v1h-1zM562.3 135.4h1v1h-1zM542.6 138.7h1v1h-1zM555.7 142.0h1v1h-1zM562.3 145.2h1v1h-1zM572.1 150.2h1v1h-1zM580.3 145.2h1v1h-1zM545.9 155.1h1v1h-1zM565.5 163.3h1v1h-1zM562.3 168.2h1v1h-1zM572.1 158.4h1v1h-1zM552.5 176.4h1v1h-1zM560.6 178.0h1v1h-1zM549.2 187.9h1v1h-1zM562.3 196.1h1v1h-1zM531.1 107.5h1v1h-1zM624.5 101.0h1v1h-1zM622.8 100.5h1v1h-1zM628.0 100.5h1v1h-1zM643.5 66.6h1v1h-1zM649.5 66.4h1v1h-1zM640.8 69.6h1v1h-1zM644.7 69.2h1v1h-1zM635.6 72.2h1v1h-1zM639.2 73.4h1v1h-1zM643.2 72.5h1v1h-1zM627.5 78.0h1v1h-1zM631.6 77.8h1v1h-1zM637.5 78.5h1v1h-1zM620.6 81.8h1v1h-1zM624.5 80.4h1v1h-1zM631.8 80.9h1v1h-1zM634.0 81.9h1v1h-1zM639.1 79.4h1v1h-1zM620.2 84.9h1v1h-1zM623.6 85.9h1v1h-1zM627.1 85.7h1v1h-1zM633.0 84.7h1v1h-1zM613.6 89.8h1v1h-1zM617.8 89.4h1v1h-1zM621.9 89.3h1v1h-1zM626.0 88.0h1v1h-1zM629.1 89.5h1v1h-1zM606.4 94.2h1v1h-1zM609.8 92.4h1v1h-1zM614.7 93.5h1v1h-1zM617.7 91.8h1v1h-1zM622.4 92.1h1v1h-1zM607.8 96.6h1v1h-1zM613.1 95.5h1v1h-1zM617.4 96.3h1v1h-1zM621.0 95.8h1v1h-1zM602.2 99.2h1v1h-1zM604.2 101.4h1v1h-1zM611.0 100.3h1v1h-1zM614.3 99.3h1v1h-1zM617.4 100.5h1v1h-1zM593.6 104.5h1v1h-1zM598.4 105.4h1v1h-1zM603.5 104.6h1v1h-1zM608.6 104.2h1v1h-1zM612.4 105.2h1v1h-1zM617.5 105.1h1v1h-1zM592.6 108.1h1v1h-1zM597.2 108.6h1v1h-1zM600.7 109.4h1v1h-1zM604.3 109.7h1v1h-1zM608.7 109.7h1v1h-1zM614.8 108.1h1v1h-1zM585.5 111.5h1v1h-1zM590.4 113.6h1v1h-1zM594.8 112.1h1v1h-1zM599.1 111.4h1v1h-1zM603.1 111.0h1v1h-1zM608.4 110.8h1v1h-1zM612.3 111.2h1v1h-1zM583.4 115.3h1v1h-1zM586.9 115.9h1v1h-1zM592.8 114.8h1v1h-1zM596.3 115.2h1v1h-1zM601.5 117.1h1v1h-1zM604.8 116.8h1v1h-1zM609.9 115.2h1v1h-1zM576.8 121.2h1v1h-1zM579.7 120.2h1v1h-1zM586.4 119.9h1v1h-1zM590.4 119.8h1v1h-1zM594.9 121.4h1v1h-1zM598.2 120.7h1v1h-1zM602.8 121.2h1v1h-1zM608.6 121.1h1v1h-1zM578.9 122.9h1v1h-1zM581.8 124.2h1v1h-1zM588.1 122.3h1v1h-1zM593.4 122.3h1v1h-1zM595.4 123.3h1v1h-1zM601.9 124.6h1v1h-1zM606.3 123.6h1v1h-1zM577.0 126.8h1v1h-1zM582.2 129.2h1v1h-1zM583.9 128.5h1v1h-1zM588.9 126.5h1v1h-1zM595.4 127.6h1v1h-1zM598.1 127.9h1v1h-1zM601.9 127.5h1v1h-1zM573.4 132.2h1v1h-1zM578.4 130.3h1v1h-1zM581.9 132.7h1v1h-1zM587.0 132.7h1v1h-1zM592.4 132.0h1v1h-1zM596.0 131.9h1v1h-1zM600.7 131.7h1v1h-1zM572.8 137.0h1v1h-1zM575.9 134.9h1v1h-1zM580.2 136.7h1v1h-1zM584.5 134.5h1v1h-1zM589.2 134.2h1v1h-1zM593.1 134.7h1v1h-1zM599.2 136.9h1v1h-1zM573.8 138.1h1v1h-1zM578.3 139.8h1v1h-1zM582.7 140.3h1v1h-1zM587.3 138.8h1v1h-1zM593.2 139.7h1v1h-1zM581.2 141.9h1v1h-1zM551.5 127.3h1v1h-1zM556.8 129.1h1v1h-1zM562.3 127.7h1v1h-1zM568.6 129.6h1v1h-1zM572.5 126.3h1v1h-1zM543.1 133.2h1v1h-1zM550.7 130.7h1v1h-1zM556.3 132.5h1v1h-1zM561.8 132.4h1v1h-1zM566.6 132.3h1v1h-1zM571.1 132.5h1v1h-1zM574.2 131.2h1v1h-1zM580.1 132.2h1v1h-1zM542.7 136.6h1v1h-1zM546.6 137.1h1v1h-1zM554.1 138.0h1v1h-1zM558.3 138.2h1v1h-1zM561.9 135.6h1v1h-1zM566.6 135.6h1v1h-1zM571.5 137.5h1v1h-1zM580.0 135.6h1v1h-1zM584.4 138.6h1v1h-1zM543.5 139.7h1v1h-1zM550.0 143.0h1v1h-1zM553.7 140.2h1v1h-1zM559.9 139.8h1v1h-1zM565.4 142.4h1v1h-1zM570.6 139.8h1v1h-1zM574.2 140.4h1v1h-1zM581.7 143.1h1v1h-1zM586.3 140.1h1v1h-1zM545.9 144.6h1v1h-1zM552.3 147.3h1v1h-1zM556.7 147.4h1v1h-1zM564.3 145.8h1v1h-1zM567.1 144.9h1v1h-1zM573.9 147.2h1v1h-1zM579.8 145.0h1v1h-1zM583.4 144.3h1v1h-1zM588.2 145.3h1v1h-1zM528.8 52.8h1v1h-1zM510.5 95.2h1v1h-1zM534.7 86.9h1v1h-1zM542.6 80.2h1v1h-1zM546.2 83.8h1v1h-1zM552.1 79.0h1v1h-1zM550.9 86.2h1v1h-1zM555.7 85.0h1v1h-1zM548.5 90.9h1v1h-1zM555.7 92.1h1v1h-1zM528.3 96.9h1v1h-1zM534.3 96.9h1v1h-1zM476.6 126.3h1v1h-1zM479.9 129.6h1v1h-1zM476.6 140.2h1v1h-1zM439.8 176.3h1v1h-1zM450.4 167.3h1v1h-1zM457.8 161.6h1v1h-1zM458.6 153.4h1v1h-1zM473.3 158.3h1v1h-1zM476.6 158.3h1v1h-1zM475.8 142.0h1v1h-1zM480.7 145.2h1v1h-1zM526.7 96.0h1v1h-1zM531.6 99.3h1v1h-1zM530.8 102.6h1v1h-1zM511.1 105.9h1v1h-1zM519.3 106.7h1v1h-1zM521.0 110.0h1v1h-1zM510.3 110.8h1v1h-1zM492.3 118.1h1v1h-1zM498.0 119.8h1v1h-1zM503.8 118.1h1v1h-1zM508.7 116.5h1v1h-1zM513.6 118.1h1v1h-1zM519.3 119.0h1v1h-1zM500.5 123.1h1v1h-1zM506.2 123.9h1v1h-1zM512.0 122.2h1v1h-1zM517.7 122.2h1v1h-1zM495.6 131.2h1v1h-1zM503.0 131.2h1v1h-1zM508.7 129.6h1v1h-1zM521.0 130.4h1v1h-1zM525.1 132.1h1v1h-1zM485.8 132.1h1v1h-1zM485.8 137.8h1v1h-1zM521.8 141.9h1v1h-1zM483.3 144.4h1v1h-1zM498.0 160.0h1v1h-1zM509.5 150.1h1v1h-1zM517.7 145.2h1v1h-1zM522.6 146.0h1v1h-1zM509.5 168.1h1v1h-1zM489.0 140.3h1v1h-1zM586.6 58.0h1v1h-1zM589.9 57.1h1v1h-1zM581.7 63.7h1v1h-1zM578.4 67.0h1v1h-1zM574.3 71.1h1v1h-1zM542.4 103.4h1v1h-1zM547.3 105.9h1v1h-1zM552.2 108.3h1v1h-1zM550.6 111.6h1v1h-1zM562.0 114.9h1v1h-1zM570.2 114.9h1v1h-1zM571.9 105.1h1v1h-1zM565.3 97.7h1v1h-1zM557.1 97.7h1v1h-1zM578.4 97.7h1v1h-1zM585.0 97.7h1v1h-1zM661.8 38.0h1v1h-1zM650.3 37.0h1v1h-1zM649.3 33.9h1v1h-1zM643.0 41.2h1v1h-1zM637.8 42.2h1v1h-1zM631.6 43.2h1v1h-1zM625.3 44.3h1v1h-1zM619.1 45.3h1v1h-1zM612.8 46.4h1v1h-1zM606.6 45.3h1v1h-1zM634.7 52.6h1v1h-1zM627.4 54.7h1v1h-1zM621.2 51.6h1v1h-1zM614.9 50.5h1v1h-1zM608.7 51.6h1v1h-1zM631.6 57.8h1v1h-1zM624.3 57.8h1v1h-1zM617.0 57.8h1v1h-1zM609.7 58.9h1v1h-1zM619.1 65.1h1v1h-1zM611.8 66.2h1v1h-1zM606.6 72.4h1v1h-1zM613.9 72.4h1v1h-1zM537.5 79.5h1v1h-1zM544.5 77.5h1v1h-1zM552.5 76.5h1v1h-1zM561.5 76.5h1v1h-1zM556.7 98.7h1v1h-1zM564.9 103.6h1v1h-1zM574.7 100.3h1v1h-1zM569.8 113.4h1v1h-1zM579.5 108.5h1v1h-1zM582.8 98.7h1v1h-1zM561.6 116.7h1v1h-1zM548.5 108.5h1v1h-1zM545.2 100.3h1v1h-1zM588.5 94.5h1v1h-1zM639.9 44.2h1v1h-1zM643.3 45.1h1v1h-1zM647.6 44.8h1v1h-1zM619.1 48.1h1v1h-1zM625.4 48.2h1v1h-1zM628.7 49.4h1v1h-1zM632.0 47.2h1v1h-1zM638.8 49.3h1v1h-1zM641.2 47.3h1v1h-1zM647.3 49.7h1v1h-1zM602.4 51.3h1v1h-1zM608.4 53.3h1v1h-1zM613.1 51.5h1v1h-1zM618.6 51.3h1v1h-1zM620.2 51.5h1v1h-1zM626.1 50.8h1v1h-1zM629.7 51.8h1v1h-1zM635.5 51.0h1v1h-1zM639.3 53.4h1v1h-1zM645.8 52.7h1v1h-1zM587.4 57.7h1v1h-1zM591.2 56.2h1v1h-1zM597.7 57.3h1v1h-1zM602.2 56.7h1v1h-1zM606.9 57.4h1v1h-1zM610.0 56.7h1v1h-1zM616.3 57.3h1v1h-1zM619.2 57.0h1v1h-1zM625.1 56.3h1v1h-1zM628.9 55.7h1v1h-1zM633.3 56.4h1v1h-1zM636.2 56.5h1v1h-1zM643.6 57.3h1v1h-1zM585.7 59.1h1v1h-1zM590.9 60.0h1v1h-1zM595.1 61.3h1v1h-1zM598.5 58.4h1v1h-1zM603.1 60.5h1v1h-1zM607.3 58.9h1v1h-1zM614.0 60.5h1v1h-1zM617.1 61.2h1v1h-1zM621.2 60.5h1v1h-1zM625.3 59.8h1v1h-1zM631.7 61.3h1v1h-1zM636.4 59.6h1v1h-1zM640.0 59.4h1v1h-1zM643.1 60.0h1v1h-1zM583.9 63.9h1v1h-1zM587.4 65.0h1v1h-1zM594.0 63.7h1v1h-1zM595.7 62.4h1v1h-1zM602.7 62.4h1v1h-1zM606.7 64.1h1v1h-1zM609.9 64.8h1v1h-1zM613.5 62.7h1v1h-1zM619.4 62.4h1v1h-1zM625.0 63.1h1v1h-1zM627.4 62.5h1v1h-1zM633.4 63.7h1v1h-1zM577.4 66.8h1v1h-1zM580.5 67.3h1v1h-1zM586.4 67.8h1v1h-1zM590.6 68.6h1v1h-1zM594.4 68.7h1v1h-1zM600.5 66.5h1v1h-1zM605.1 68.5h1v1h-1zM607.1 67.6h1v1h-1zM613.1 69.1h1v1h-1zM616.9 68.0h1v1h-1zM622.9 68.7h1v1h-1zM627.6 67.7h1v1h-1zM569.4 73.0h1v1h-1zM575.6 71.2h1v1h-1zM577.7 71.5h1v1h-1zM583.7 72.5h1v1h-1zM588.0 70.2h1v1h-1zM593.5 70.3h1v1h-1zM597.9 70.6h1v1h-1zM601.0 72.6h1v1h-1zM604.9 70.6h1v1h-1zM610.6 72.4h1v1h-1zM616.1 72.3h1v1h-1zM620.9 71.7h1v1h-1zM568.8 76.8h1v1h-1zM571.3 76.7h1v1h-1zM578.2 75.6h1v1h-1zM581.5 74.6h1v1h-1zM585.9 75.6h1v1h-1zM590.6 74.1h1v1h-1zM596.2 75.6h1v1h-1zM598.9 76.5h1v1h-1zM603.9 75.5h1v1h-1zM608.9 74.2h1v1h-1zM612.9 75.3h1v1h-1zM570.6 78.9h1v1h-1zM574.0 79.8h1v1h-1zM577.8 80.2h1v1h-1zM582.3 79.5h1v1h-1zM587.2 78.5h1v1h-1zM592.6 79.3h1v1h-1zM596.6 79.2h1v1h-1zM601.6 78.4h1v1h-1zM605.1 79.9h1v1h-1zM567.0 82.1h1v1h-1zM573.3 83.1h1v1h-1zM577.7 82.2h1v1h-1zM580.9 84.0h1v1h-1zM584.2 82.4h1v1h-1zM590.8 84.7h1v1h-1zM596.2 82.2h1v1h-1zM565.5 87.0h1v1h-1zM570.3 85.7h1v1h-1zM575.1 88.3h1v1h-1zM578.0 87.1h1v1h-1zM584.3 87.0h1v1h-1zM587.0 86.2h1v1h-1zM592.5 85.7h1v1h-1zM567.3 91.1h1v1h-1zM570.7 90.7h1v1h-1zM577.2 91.6h1v1h-1zM580.4 92.6h1v1h-1zM586.3 90.7h1v1h-1zM568.6 96.4h1v1h-1zM573.4 95.0h1v1h-1zM578.0 95.0h1v1h-1z"/>
<g stroke="#111" stroke-width="1">
<line x1="428.00" y1="281.0" x2="428.00" y2="275.0"/>
<line x1="428.00" y1="8.5" x2="428.00" y2="14.5"/>
<line x1="428.0" y1="281.00" x2="434.0" y2="281.00"/>
<line x1="701.0" y1="281.00" x2="695.0" y2="281.00"/>
<line x1="482.60" y1="281.0" x2="482.60" y2="275.0"/>
<line x1="482.60" y1="8.5" x2="482.60" y2="14.5"/>
<line x1="428.0" y1="226.50" x2="434.0" y2="226.50"/>
<line x1="701.0" y1="226.50" x2="695.0" y2="226.50"/>
<line x1="537.20" y1="281.0" x2="537.20" y2="275.0"/>
<line x1="537.20" y1="8.5" x2="537.20" y2="14.5"/>
<line x1="428.0" y1="172.00" x2="434.0" y2="172.00"/>
<line x1="701.0" y1="172.00" x2="695.0" y2="172.00"/>
<line x1="591.80" y1="281.0" x2="591.80" y2="275.0"/>
<line x1="591.80" y1="8.5" x2="591.80" y2="14.5"/>
<line x1="428.0" y1="117.50" x2="434.0" y2="117.50"/>
<line x1="701.0" y1="117.50" x2="695.0" y2="117.50"/>
<line x1="646.40" y1="281.0" x2="646.40" y2="275.0"/>
<line x1="646.40" y1="8.5" x2="646.40" y2="14.5"/>
<line x1="428.0" y1="63.00" x2="434.0" y2="63.00"/>
<line x1="701.0" y1="63.00" x2="695.0" y2="63.00"/>
<line x1="701.00" y1="281.0" x2="701.00" y2="275.0"/>
<line x1="701.00" y1="8.5" x2="701.00" y2="14.5"/>
<line x1="428.0" y1="8.50" x2="434.0" y2="8.50"/>
<line x1="701.0" y1="8.50" x2="695.0" y2="8.50"/>
</g>
<rect x="428.0" y="8.5" width="273.0" height="272.5" fill="none" stroke="#111" stroke-width="1.2"/>
<g font-size="15.6" fill="#111">
<text x="414.77" y="303.90">−</text><text x="423.88" y="302.50">2</text><text x="432.56" y="302.50">0</text>
<text x="392.54" y="288.30">−</text><text x="401.65" y="286.90">2</text><text x="410.33" y="286.90">0</text>
<text x="469.37" y="303.90">−</text><path transform="translate(478.48,302.50) scale(15.6,-15.6)" d="M0.262 0H0.338V0.715H0.277C0.257 0.64 0.196 0.605 0.09 0.596V0.54H0.262Z"/><text x="487.16" y="302.50">5</text>
<text x="392.54" y="233.80">−</text><path transform="translate(401.65,232.40) scale(15.6,-15.6)" d="M0.262 0H0.338V0.715H0.277C0.257 0.64 0.196 0.605 0.09 0.596V0.54H0.262Z"/><text x="410.33" y="232.40">5</text>
<text x="523.97" y="303.90">−</text><path transform="translate(533.08,302.50) scale(15.6,-15.6)" d="M0.262 0H0.338V0.715H0.277C0.257 0.64 0.196 0.605 0.09 0.596V0.54H0.262Z"/><text x="541.76" y="302.50">0</text>
<text x="392.54" y="179.30">−</text><path transform="translate(401.65,177.90) scale(15.6,-15.6)" d="M0.262 0H0.338V0.715H0.277C0.257 0.64 0.196 0.605 0.09 0.596V0.54H0.262Z"/><text x="410.33" y="177.90">0</text>
<text x="582.91" y="303.90">−</text><text x="592.02" y="302.50">5</text>
<text x="401.22" y="124.80">−</text><text x="410.33" y="123.40">5</text>
<text x="642.06" y="302.50">0</text>
<text x="410.33" y="68.90">0</text>
<text x="696.66" y="302.50">5</text>
<text x="410.33" y="14.40">5</text>
</g>
<text transform="translate(439.8,41.5) scale(0.85,1)" font-size="28.6" font-weight="bold" fill="#000">B</text>
<g transform="translate(490.8,325.5)" fill="#111"><text x="0" y="0" font-size="15.5">Δ</text><text x="9.6" y="4.2" font-size="12">solv</text><text x="32.6" y="-0.2" font-size="16.4" font-style="italic">G</text><text x="44.7" y="-9.0" font-size="10.8">o</text><text x="43.9" y="4.0" font-size="11.6">exp</text><text x="68.40" y="0" font-size="15.5">/ kcal mol</text><text x="133.50" y="-7.3" font-size="12">−</text><path transform="translate(140.51,-7.30) scale(12,-12)" d="M0.262 0H0.338V0.715H0.277C0.257 0.64 0.196 0.605 0.09 0.596V0.54H0.262Z"/></g>
<g transform="translate(380.9,220.2) rotate(-90)" fill="#111"><text x="0" y="0" font-size="15.5">Δ</text><text x="9.6" y="4.2" font-size="12">solv</text><text x="32.6" y="-0.2" font-size="16.4" font-style="italic">G</text><text x="44.7" y="-9.0" font-size="10.8">o</text><text x="43.9" y="4.0" font-size="11.6">calc</text><text x="70.32" y="0" font-size="15.5">/ kcal mol</text><text x="135.42" y="-7.3" font-size="12">−</text><path transform="translate(142.43,-7.30) scale(12,-12)" d="M0.262 0H0.338V0.715H0.277C0.257 0.64 0.196 0.605 0.09 0.596V0.54H0.262Z"/></g>
</svg>
</body></html>
